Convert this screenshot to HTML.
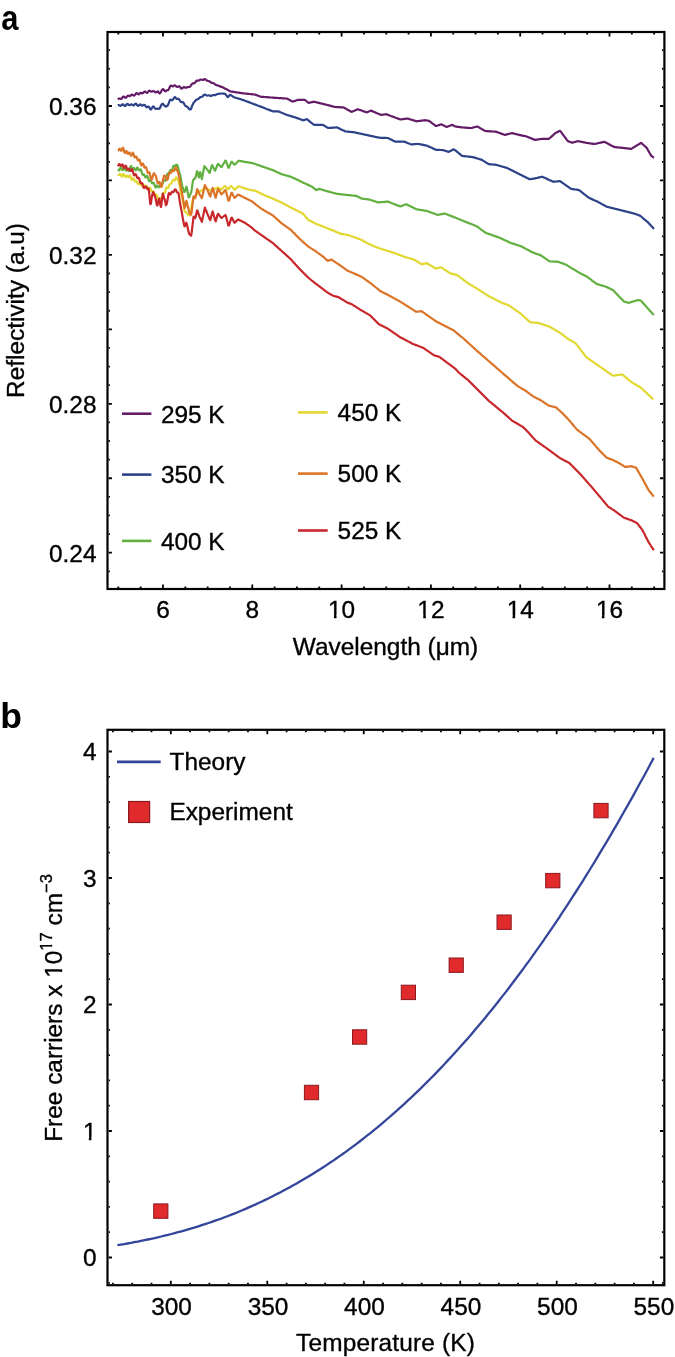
<!DOCTYPE html>
<html><head><meta charset="utf-8"><style>
html,body{margin:0;padding:0;background:#fff;width:675px;height:1357px;overflow:hidden}
text{font-family:"Liberation Sans", sans-serif;stroke:#000;stroke-width:0.35px}
svg{will-change:transform}
</style></head><body>
<svg width="675" height="1357" viewBox="0 0 675 1357" style="display:block">
<rect width="675" height="1357" fill="#fff"/>
<path d="M118.35,587.90V586.60M118.35,33.10V34.40M140.68,587.90V586.60M140.68,33.10V34.40M163.00,587.90V584.60M163.00,33.10V36.40M185.32,587.90V586.60M185.32,33.10V34.40M207.65,587.90V586.60M207.65,33.10V34.40M229.97,587.90V586.60M229.97,33.10V34.40M252.30,587.90V584.60M252.30,33.10V36.40M274.62,587.90V586.60M274.62,33.10V34.40M296.95,587.90V586.60M296.95,33.10V34.40M319.27,587.90V586.60M319.27,33.10V34.40M341.60,587.90V584.60M341.60,33.10V36.40M363.92,587.90V586.60M363.92,33.10V34.40M386.25,587.90V586.60M386.25,33.10V34.40M408.57,587.90V586.60M408.57,33.10V34.40M430.90,587.90V584.60M430.90,33.10V36.40M453.22,587.90V586.60M453.22,33.10V34.40M475.55,587.90V586.60M475.55,33.10V34.40M497.88,587.90V586.60M497.88,33.10V34.40M520.20,587.90V584.60M520.20,33.10V36.40M542.52,587.90V586.60M542.52,33.10V34.40M564.85,587.90V586.60M564.85,33.10V34.40M587.17,587.90V586.60M587.17,33.10V34.40M609.50,587.90V584.60M609.50,33.10V36.40M631.83,587.90V586.60M631.83,33.10V34.40M654.15,587.90V586.60M654.15,33.10V34.40M108.60,571.31H109.90M663.30,571.31H662.00M108.60,552.70H111.90M663.30,552.70H660.00M108.60,534.09H109.90M663.30,534.09H662.00M108.60,515.47H109.90M663.30,515.47H662.00M108.60,496.86H109.90M663.30,496.86H662.00M108.60,478.25H111.90M663.30,478.25H660.00M108.60,459.64H109.90M663.30,459.64H662.00M108.60,441.02H109.90M663.30,441.02H662.00M108.60,422.41H109.90M663.30,422.41H662.00M108.60,403.80H111.90M663.30,403.80H660.00M108.60,385.19H109.90M663.30,385.19H662.00M108.60,366.57H109.90M663.30,366.57H662.00M108.60,347.96H109.90M663.30,347.96H662.00M108.60,329.35H111.90M663.30,329.35H660.00M108.60,310.74H109.90M663.30,310.74H662.00M108.60,292.12H109.90M663.30,292.12H662.00M108.60,273.51H109.90M663.30,273.51H662.00M108.60,254.90H111.90M663.30,254.90H660.00M108.60,236.29H109.90M663.30,236.29H662.00M108.60,217.67H109.90M663.30,217.67H662.00M108.60,199.06H109.90M663.30,199.06H662.00M108.60,180.45H111.90M663.30,180.45H660.00M108.60,161.84H109.90M663.30,161.84H662.00M108.60,143.23H109.90M663.30,143.23H662.00M108.60,124.61H109.90M663.30,124.61H662.00M108.60,106.00H111.90M663.30,106.00H660.00M108.60,87.39H109.90M663.30,87.39H662.00M108.60,68.77H109.90M663.30,68.77H662.00M108.60,50.16H109.90M663.30,50.16H662.00" stroke="#000" stroke-width="1.8" fill="none"/>
<path d="M117.9,99.4 L118.5,98.8 L119.1,98.5 L119.7,98.5 L120.3,98.8 L120.9,99.0 L121.5,98.7 L122.1,98.0 L122.7,97.2 L123.3,96.7 L123.9,96.7 L124.5,97.2 L125.1,97.7 L125.7,97.8 L126.3,97.4 L126.9,96.6 L127.5,95.9 L128.1,95.7 L128.7,95.8 L129.3,96.1 L129.9,96.1 L130.5,95.7 L131.1,95.2 L131.7,94.7 L132.3,94.7 L132.9,95.1 L133.5,95.5 L134.1,95.6 L134.7,95.1 L135.3,94.3 L135.9,93.4 L136.5,93.1 L137.1,93.3 L137.7,93.9 L138.3,94.3 L138.9,94.2 L139.5,93.7 L140.1,93.1 L140.7,92.8 L141.3,92.9 L141.9,93.2 L142.5,93.3 L143.1,93.0 L143.7,92.4 L144.3,91.8 L144.9,91.5 L145.5,91.8 L146.1,92.4 L146.7,92.8 L147.3,92.8 L147.9,92.2 L148.5,91.4 L149.1,90.8 L149.7,90.7 L150.3,91.0 L150.9,91.4 L151.5,91.7 L152.1,91.5 L152.7,91.2 L153.3,91.0 L153.9,91.2 L154.5,91.7 L155.1,92.2 L155.7,92.5 L156.3,92.3 L156.9,91.8 L157.5,91.4 L158.1,91.6 L158.7,92.4 L159.3,93.3 L159.9,93.3 L160.5,92.6 L161.1,91.6 L161.7,90.4 L162.3,89.6 L162.9,89.2 L163.5,89.3 L164.1,90.3 L164.7,91.0 L165.3,91.3 L165.9,91.2 L166.5,90.5 L167.1,90.2 L167.7,90.2 L168.3,89.9 L168.9,89.1 L169.5,87.8 L170.1,86.3 L170.7,85.7 L171.3,85.6 L171.9,86.0 L172.5,86.3 L173.1,86.3 L173.7,85.9 L174.3,85.4 L174.9,85.3 L175.5,85.7 L176.1,86.3 L176.7,86.8 L177.3,87.0 L177.9,86.8 L178.5,86.4 L179.1,86.3 L179.7,86.6 L180.3,87.4 L180.9,88.3 L181.5,88.6 L182.1,88.4 L182.7,87.8 L183.3,87.3 L183.9,87.1 L184.5,87.3 L185.1,87.6 L185.7,87.8 L186.3,87.7 L186.9,87.3 L187.5,87.1 L188.1,87.1 L188.7,87.0 L189.3,87.0 L189.9,86.8 L190.5,86.1 L191.1,85.2 L191.7,84.3 L192.3,83.6 L192.9,83.4 L193.5,83.4 L194.1,83.3 L194.7,83.0 L195.3,82.3 L195.9,81.5 L196.5,80.9 L197.1,80.5 L197.7,80.6 L198.3,80.7 L198.9,80.5 L199.5,80.1 L200.1,79.7 L200.7,79.5 L201.3,79.6 L201.9,79.8 L202.5,80.0 L203.1,79.9 L203.7,79.6 L204.3,79.2 L204.9,79.2 L205.5,79.4 L206.1,79.9 L206.7,80.4 L207.3,80.8 L207.9,81.0 L208.5,81.1 L209.1,81.2 L209.7,81.5 L210.3,82.0 L210.9,82.4 L211.5,82.8 L212.1,82.9 L212.7,83.0 L213.3,83.2 L213.9,83.4 L214.5,83.9 L215.1,84.4 L215.7,84.8 L216.3,85.1 L216.9,85.3 L217.5,85.4 L218.1,85.5 L218.7,85.8 L219.3,86.1 L219.9,86.4 L220.5,86.6 L221.1,86.8 L221.7,86.9 L222.3,87.1 L222.9,87.4 L223.5,87.7 L224.1,88.1 L224.7,88.4 L225.3,88.7 L225.9,88.9 L226.5,89.2 L227.1,89.6 L227.7,89.9 L228.3,90.3 L228.9,90.6 L229.5,91.0 L230.1,91.3 L230.7,91.5 L231.3,91.6 L231.9,91.6 L232.5,91.7 L233.1,91.8 L233.7,91.9 L234.3,92.0 L234.9,92.1 L235.5,92.2 L236.1,92.3 L236.7,92.4 L237.3,92.5 L237.9,92.6 L238.5,92.6 L239.1,92.7 L239.7,92.8 L240.3,92.9 L240.9,93.0 L241.5,93.1 L242.1,93.2 L242.7,93.3 L243.3,93.4 L243.9,93.4 L244.5,93.5 L245.1,93.5 L245.7,93.6 L246.3,93.7 L246.9,93.7 L247.5,93.8 L248.1,93.9 L248.7,93.9 L249.3,94.0 L249.9,94.0 L250.5,94.1 L251.1,94.2 L251.7,94.2 L252.3,94.3 L252.9,94.4 L253.5,94.4 L254.1,94.5 L254.7,94.5 L255.3,94.6 L255.9,94.9 L256.5,95.1 L257.1,95.3 L257.7,95.6 L258.3,95.8 L258.9,96.0 L259.5,96.3 L260.1,96.5 L260.7,96.7 L261.3,96.8 L261.9,96.8 L262.5,96.8 L263.1,96.9 L263.7,96.9 L264.3,97.0 L264.9,97.0 L265.5,97.1 L266.1,97.1 L266.7,97.2 L267.3,97.2 L267.9,97.3 L268.5,97.3 L269.1,97.4 L269.7,97.4 L270.3,97.5 L270.9,97.5 L271.5,97.5 L272.1,97.6 L272.7,97.6 L273.3,97.7 L273.9,97.7 L274.5,97.8 L275.1,97.8 L275.7,97.9 L276.3,97.9 L276.9,97.9 L277.5,98.0 L278.1,98.0 L278.7,98.1 L279.3,98.1 L279.9,98.1 L280.5,98.2 L281.1,98.2 L281.7,98.2 L282.3,98.3 L282.9,98.3 L283.5,98.4 L284.1,98.4 L284.7,98.4 L285.3,98.5 L285.9,98.5 L286.5,98.6 L287.1,98.6 L287.7,98.9 L288.3,99.2 L288.9,99.6 L289.5,99.9 L290.1,100.3 L290.7,100.6 L291.3,101.0 L291.9,101.3 L292.5,101.6 L293.1,101.5 L293.7,101.3 L294.3,101.1 L294.9,100.9 L295.5,100.7 L296.1,100.5 L296.7,100.3 L297.3,100.1 L297.9,99.9 L298.5,99.9 L299.1,99.9 L299.7,99.9 L300.3,99.9 L300.9,99.9 L301.5,99.9 L302.1,99.9 L302.7,99.9 L303.3,99.9 L303.9,99.9 L304.5,99.9 L305.1,100.0 L305.7,100.5 L306.3,101.0 L306.9,101.5 L307.5,102.0 L308.1,102.5 L308.7,102.9 L309.3,102.7 L309.9,102.6 L310.5,102.5 L311.1,102.3 L311.7,102.2 L312.3,102.1 L312.9,101.9 L313.5,101.8 L314.1,101.7 L314.7,101.9 L315.3,102.0 L315.9,102.2 L316.5,102.3 L317.1,102.5 L317.7,102.6 L318.3,102.8 L318.9,102.9 L319.5,103.1 L320.1,103.2 L320.7,103.4 L321.3,103.5 L321.9,103.6 L322.5,103.8 L323.1,103.9 L323.7,104.1 L324.3,104.2 L324.9,104.4 L325.5,104.5 L326.1,104.7 L326.7,104.8 L327.3,105.0 L327.9,105.1 L328.5,105.3 L329.1,105.4 L329.7,105.6 L330.3,105.8 L330.9,105.9 L331.5,106.1 L332.1,106.2 L332.7,106.4 L333.3,106.5 L333.9,106.7 L334.5,106.8 L335.1,107.0 L335.7,107.0 L336.3,107.1 L336.9,107.1 L337.5,107.1 L338.1,107.1 L338.7,107.2 L339.3,107.2 L339.9,107.2 L340.5,107.3 L341.1,107.3 L341.7,107.3 L342.3,107.3 L342.9,107.4 L343.5,107.4 L344.1,107.7 L344.7,108.0 L345.3,108.4 L345.9,108.7 L346.5,109.0 L347.1,109.4 L347.7,109.7 L348.3,110.0 L348.9,110.4 L349.5,110.7 L350.1,111.1 L350.7,111.4 L351.3,111.7 L351.9,111.8 L352.5,111.5 L353.1,111.2 L353.7,111.0 L354.3,110.7 L354.9,110.5 L355.5,110.2 L356.1,109.9 L356.7,109.7 L357.3,109.4 L357.9,109.2 L358.5,109.5 L359.1,109.7 L359.7,109.9 L360.3,110.1 L360.9,110.3 L361.5,110.5 L362.1,110.7 L362.7,111.0 L363.3,111.2 L363.9,111.4 L364.5,111.6 L365.1,111.8 L365.7,112.0 L366.3,112.3 L366.9,112.3 L367.5,112.1 L368.1,111.8 L368.7,111.6 L369.3,111.3 L369.9,111.1 L370.5,110.8 L371.1,110.6 L371.7,110.9 L372.3,111.1 L372.9,111.4 L373.5,111.7 L374.1,111.9 L374.7,112.2 L375.3,112.4 L375.9,112.7 L376.5,113.0 L377.1,113.2 L377.7,113.5 L378.3,113.8 L378.9,114.0 L379.5,114.3 L380.1,114.5 L380.7,114.8 L381.3,114.8 L381.9,114.8 L382.5,114.7 L383.1,114.6 L383.7,114.5 L384.3,114.5 L384.9,114.4 L385.5,114.3 L386.1,114.2 L386.7,114.4 L387.3,114.6 L387.9,114.8 L388.5,115.1 L389.1,115.3 L389.7,115.5 L390.3,115.7 L390.9,116.0 L391.5,116.2 L392.1,116.4 L392.7,116.6 L393.3,116.8 L393.9,117.1 L394.5,117.3 L395.1,117.5 L395.7,117.7 L396.3,118.0 L396.9,118.2 L397.5,118.4 L398.1,118.6 L398.7,118.9 L399.3,119.1 L399.9,119.3 L400.5,119.5 L401.1,119.4 L401.7,119.3 L402.3,119.2 L402.9,119.2 L403.5,119.1 L404.1,119.0 L404.7,118.9 L405.3,118.8 L405.9,118.7 L406.5,118.7 L407.1,118.6 L407.7,118.5 L408.3,118.7 L408.9,118.9 L409.5,119.1 L410.1,119.3 L410.7,119.5 L411.3,119.7 L411.9,119.9 L412.5,120.1 L413.1,120.2 L413.7,120.4 L414.3,120.6 L414.9,120.8 L415.5,121.0 L416.1,121.2 L416.7,121.3 L417.3,121.2 L417.9,121.1 L418.5,121.0 L419.1,121.0 L419.7,120.9 L420.3,120.8 L420.9,120.7 L421.5,120.7 L422.1,120.6 L422.7,120.5 L423.3,120.4 L423.9,120.4 L424.5,120.3 L425.1,120.2 L425.7,120.3 L426.3,120.4 L426.9,120.5 L427.5,120.6 L428.1,120.7 L428.7,120.8 L429.3,121.1 L429.9,121.5 L430.5,122.0 L431.1,122.4 L431.7,122.9 L432.3,123.3 L432.9,123.8 L433.5,124.2 L434.1,124.7 L434.7,125.1 L435.3,125.6 L435.9,126.0 L436.5,125.9 L437.1,125.7 L437.7,125.5 L438.3,125.3 L438.9,125.1 L439.5,124.9 L440.1,124.7 L440.7,124.5 L441.3,124.3 L441.9,124.6 L442.5,124.9 L443.1,125.2 L443.7,125.5 L444.3,125.8 L444.9,126.1 L445.5,126.4 L446.1,126.7 L446.7,127.0 L447.3,126.8 L447.9,126.5 L448.5,126.3 L449.1,126.0 L449.7,125.8 L450.3,125.6 L450.9,125.3 L451.5,125.1 L452.1,124.9 L452.7,125.2 L453.3,125.5 L453.9,125.8 L454.5,126.1 L455.1,126.4 L455.7,126.5 L456.3,126.6 L456.9,126.7 L457.5,126.8 L458.1,126.8 L458.7,126.9 L459.3,127.0 L459.9,127.1 L460.5,127.2 L461.1,127.3 L461.7,127.3 L462.3,127.4 L462.9,127.5 L463.5,127.5 L464.1,127.6 L464.7,127.6 L465.3,127.7 L465.9,127.7 L466.5,127.7 L467.1,127.8 L467.7,127.8 L468.3,127.9 L468.9,127.9 L469.5,128.0 L470.1,128.0 L470.7,128.1 L471.3,128.0 L471.9,127.9 L472.5,127.7 L473.1,127.5 L473.7,127.4 L474.3,127.2 L474.9,127.0 L475.5,126.9 L476.1,126.7 L476.7,126.5 L477.3,126.5 L477.9,126.8 L478.5,127.1 L479.1,127.5 L479.7,127.8 L480.3,128.2 L480.9,128.5 L481.5,128.9 L482.1,129.2 L482.7,129.6 L483.3,129.9 L483.9,130.3 L484.5,130.6 L485.1,130.9 L485.7,131.0 L486.3,131.1 L486.9,131.1 L487.5,131.2 L488.1,131.2 L488.7,131.2 L489.3,131.3 L489.9,131.3 L490.5,131.3 L491.1,131.4 L491.7,131.4 L492.3,131.5 L492.9,131.5 L493.5,131.5 L494.1,131.6 L494.7,131.6 L495.3,131.7 L495.9,131.7 L496.5,131.9 L497.1,132.1 L497.7,132.3 L498.3,132.6 L498.9,132.8 L499.5,133.0 L500.1,133.2 L500.7,133.4 L501.3,133.6 L501.9,133.9 L502.5,134.1 L503.1,134.3 L503.7,134.5 L504.3,134.7 L504.9,134.9 L505.5,134.7 L506.1,134.6 L506.7,134.4 L507.3,134.3 L507.9,134.1 L508.5,134.0 L509.1,133.8 L509.7,133.7 L510.3,133.5 L510.9,133.4 L511.5,133.2 L512.1,133.1 L512.7,133.3 L513.3,133.4 L513.9,133.6 L514.5,133.7 L515.1,133.9 L515.7,134.0 L516.3,134.2 L516.9,134.3 L517.5,134.5 L518.1,134.6 L518.7,134.8 L519.3,134.9 L519.9,135.1 L520.5,135.2 L521.1,135.3 L521.7,135.4 L522.3,135.6 L522.9,135.7 L523.5,135.8 L524.1,135.9 L524.7,136.0 L525.3,136.1 L525.9,136.3 L526.5,136.5 L527.1,136.7 L527.7,136.9 L528.3,137.2 L528.9,137.4 L529.5,137.7 L530.1,137.9 L530.7,138.2 L531.3,138.4 L531.9,138.6 L532.5,138.9 L533.1,139.1 L533.7,139.4 L534.3,139.6 L534.9,139.9 L535.5,139.8 L536.1,139.7 L536.7,139.6 L537.3,139.5 L537.9,139.5 L538.5,139.4 L539.1,139.3 L539.7,139.2 L540.3,139.1 L540.9,139.0 L541.5,138.9 L542.1,138.8 L542.7,138.8 L543.3,138.8 L543.9,138.8 L544.5,138.8 L545.1,138.8 L545.7,138.9 L546.3,138.9 L546.9,138.9 L547.5,138.9 L548.1,138.9 L548.7,138.9 L549.3,138.5 L549.9,138.0 L550.5,137.5 L551.1,136.9 L551.7,136.4 L552.3,135.9 L552.9,135.3 L553.5,134.8 L554.1,134.2 L554.7,133.7 L555.3,133.2 L555.9,132.8 L556.5,132.5 L557.1,132.2 L557.7,131.9 L558.3,131.6 L558.9,131.3 L559.5,131.0 L560.1,130.8 L560.7,131.6 L561.3,132.4 L561.9,133.2 L562.5,134.0 L563.1,134.8 L563.7,135.6 L564.3,136.4 L564.9,137.2 L565.5,138.0 L566.1,138.8 L566.7,139.6 L567.3,140.4 L567.9,141.1 L568.5,141.4 L569.1,141.6 L569.7,141.8 L570.3,142.0 L570.9,142.2 L571.5,142.4 L572.1,142.7 L572.7,142.6 L573.3,142.4 L573.9,142.2 L574.5,142.0 L575.1,141.9 L575.7,141.7 L576.3,141.5 L576.9,141.4 L577.5,141.2 L578.1,141.2 L578.7,141.3 L579.3,141.4 L579.9,141.5 L580.5,141.6 L581.1,141.8 L581.7,141.9 L582.3,142.0 L582.9,142.1 L583.5,142.3 L584.1,142.4 L584.7,142.5 L585.3,142.6 L585.9,142.7 L586.5,142.9 L587.1,143.0 L587.7,143.0 L588.3,143.1 L588.9,143.2 L589.5,143.3 L590.1,143.4 L590.7,143.5 L591.3,143.6 L591.9,143.6 L592.5,143.7 L593.1,143.8 L593.7,143.9 L594.3,144.0 L594.9,143.9 L595.5,143.8 L596.1,143.6 L596.7,143.5 L597.3,143.4 L597.9,143.2 L598.5,143.1 L599.1,143.0 L599.7,142.8 L600.3,142.7 L600.9,142.6 L601.5,142.4 L602.1,142.3 L602.7,142.2 L603.3,142.0 L603.9,141.9 L604.5,141.9 L605.1,142.2 L605.7,142.5 L606.3,142.8 L606.9,143.1 L607.5,143.4 L608.1,143.8 L608.7,144.1 L609.3,144.4 L609.9,144.7 L610.5,145.0 L611.1,145.4 L611.7,145.7 L612.3,146.0 L612.9,146.3 L613.5,146.6 L614.1,146.9 L614.7,147.1 L615.3,147.2 L615.9,147.2 L616.5,147.3 L617.1,147.3 L617.7,147.4 L618.3,147.4 L618.9,147.5 L619.5,147.6 L620.1,147.6 L620.7,147.7 L621.3,147.7 L621.9,147.8 L622.5,147.8 L623.1,147.9 L623.7,148.0 L624.3,148.1 L624.9,148.1 L625.5,148.2 L626.1,148.3 L626.7,148.4 L627.3,148.4 L627.9,148.5 L628.5,148.6 L629.1,148.7 L629.7,148.7 L630.3,148.8 L630.9,148.9 L631.5,148.7 L632.1,148.3 L632.7,147.9 L633.3,147.6 L633.9,147.2 L634.5,146.9 L635.1,146.5 L635.7,146.1 L636.3,145.8 L636.9,145.4 L637.5,145.1 L638.1,144.7 L638.7,144.3 L639.3,144.0 L639.9,143.6 L640.5,143.3 L641.1,142.9 L641.7,143.4 L642.3,143.9 L642.9,144.5 L643.5,145.0 L644.1,145.5 L644.7,146.0 L645.3,146.6 L645.9,147.1 L646.5,147.6 L647.1,148.5 L647.7,149.6 L648.3,150.6 L648.9,151.7 L649.5,152.8 L650.1,153.8 L650.7,154.9 L651.3,155.8 L651.9,156.2 L652.5,156.7 L653.1,157.1 L653.7,157.6 L654.0,157.8" stroke="#641c68" stroke-width="2.2" fill="none" stroke-linejoin="round" stroke-linecap="butt"/>
<path d="M117.9,105.5 L118.5,105.1 L119.1,105.1 L119.7,105.5 L120.3,105.8 L120.9,105.7 L121.5,105.2 L122.1,104.6 L122.7,104.3 L123.3,104.5 L123.9,105.2 L124.5,105.9 L125.1,106.0 L125.7,105.6 L126.3,104.7 L126.9,104.0 L127.5,103.8 L128.1,104.2 L128.7,104.8 L129.3,105.2 L129.9,105.1 L130.5,104.7 L131.1,104.3 L131.7,104.3 L132.3,104.8 L132.9,105.3 L133.5,105.5 L134.1,105.1 L134.7,104.4 L135.3,103.8 L135.9,103.7 L136.5,104.2 L137.1,105.0 L137.7,105.7 L138.3,105.8 L138.9,105.4 L139.5,104.8 L140.1,104.4 L140.7,104.6 L141.3,105.1 L141.9,105.6 L142.5,105.6 L143.1,105.3 L143.7,104.9 L144.3,104.8 L144.9,105.2 L145.5,106.0 L146.1,106.9 L146.7,107.3 L147.3,107.1 L147.9,106.7 L148.5,106.6 L149.1,107.0 L149.7,108.0 L150.3,109.1 L150.9,109.5 L151.5,108.8 L152.1,107.8 L152.7,106.8 L153.3,106.3 L153.9,106.9 L154.5,107.9 L155.1,108.6 L155.7,108.8 L156.3,108.8 L156.9,108.9 L157.5,108.6 L158.1,108.6 L158.7,108.8 L159.3,108.7 L159.9,108.0 L160.5,106.7 L161.1,105.3 L161.7,104.3 L162.3,103.9 L162.9,103.7 L163.5,104.7 L164.1,105.4 L164.7,105.7 L165.3,106.0 L165.9,106.6 L166.5,106.3 L167.1,106.0 L167.7,105.4 L168.3,104.4 L168.9,102.8 L169.5,101.1 L170.1,99.8 L170.7,99.7 L171.3,100.0 L171.9,100.3 L172.5,100.1 L173.1,99.4 L173.7,98.4 L174.3,97.5 L174.9,97.0 L175.5,97.6 L176.1,98.4 L176.7,98.8 L177.3,98.9 L177.9,98.7 L178.5,98.8 L179.1,99.4 L179.7,100.3 L180.3,101.3 L180.9,101.9 L181.5,102.1 L182.1,102.1 L182.7,102.0 L183.3,102.5 L183.9,103.4 L184.5,104.5 L185.1,105.5 L185.7,106.1 L186.3,106.4 L186.9,106.6 L187.5,107.0 L188.1,107.7 L188.7,108.6 L189.3,109.2 L189.9,109.5 L190.5,109.5 L191.1,108.8 L191.7,106.9 L192.3,105.4 L192.9,104.2 L193.5,102.9 L194.1,102.3 L194.7,101.6 L195.3,100.7 L195.9,100.0 L196.5,99.6 L197.1,99.5 L197.7,99.4 L198.3,99.0 L198.9,98.4 L199.5,97.8 L200.1,97.3 L200.7,97.0 L201.3,97.0 L201.9,96.9 L202.5,96.5 L203.1,95.8 L203.7,95.0 L204.3,94.5 L204.9,94.5 L205.5,94.9 L206.1,95.3 L206.7,95.5 L207.3,95.6 L207.9,95.5 L208.5,95.3 L209.1,95.4 L209.7,95.5 L210.3,95.8 L210.9,95.9 L211.5,95.8 L212.1,95.5 L212.7,95.2 L213.3,95.0 L213.9,95.0 L214.5,95.1 L215.1,95.1 L215.7,94.9 L216.3,94.6 L216.9,94.2 L217.5,94.0 L218.1,93.9 L218.7,93.9 L219.3,93.8 L219.9,93.7 L220.5,93.5 L221.1,93.5 L221.7,93.5 L222.3,93.6 L222.9,93.7 L223.5,93.7 L224.1,93.7 L224.7,93.7 L225.3,94.0 L225.9,94.8 L226.5,95.6 L227.1,96.4 L227.7,97.2 L228.3,96.6 L228.9,96.0 L229.5,95.4 L230.1,94.8 L230.7,94.9 L231.3,95.3 L231.9,95.8 L232.5,96.2 L233.1,96.6 L233.7,97.1 L234.3,97.3 L234.9,97.5 L235.5,97.7 L236.1,97.9 L236.7,98.0 L237.3,98.2 L237.9,98.4 L238.5,98.6 L239.1,98.8 L239.7,99.0 L240.3,99.1 L240.9,99.3 L241.5,99.5 L242.1,99.7 L242.7,99.9 L243.3,100.1 L243.9,100.3 L244.5,100.5 L245.1,100.8 L245.7,101.0 L246.3,101.2 L246.9,101.4 L247.5,101.7 L248.1,101.9 L248.7,102.1 L249.3,102.3 L249.9,102.6 L250.5,102.8 L251.1,103.0 L251.7,103.2 L252.3,103.5 L252.9,103.7 L253.5,103.9 L254.1,104.2 L254.7,104.4 L255.3,104.6 L255.9,104.8 L256.5,105.1 L257.1,105.3 L257.7,105.5 L258.3,105.7 L258.9,106.0 L259.5,106.2 L260.1,106.4 L260.7,106.6 L261.3,106.9 L261.9,107.1 L262.5,107.3 L263.1,107.6 L263.7,107.8 L264.3,108.0 L264.9,108.3 L265.5,108.5 L266.1,108.7 L266.7,109.0 L267.3,109.2 L267.9,109.4 L268.5,109.7 L269.1,109.9 L269.7,110.1 L270.3,110.4 L270.9,110.6 L271.5,110.8 L272.1,111.1 L272.7,111.3 L273.3,111.4 L273.9,111.4 L274.5,111.4 L275.1,111.4 L275.7,111.4 L276.3,111.4 L276.9,111.4 L277.5,111.4 L278.1,111.4 L278.7,111.6 L279.3,111.8 L279.9,112.0 L280.5,112.3 L281.1,112.5 L281.7,112.8 L282.3,113.0 L282.9,113.3 L283.5,113.5 L284.1,113.7 L284.7,114.0 L285.3,114.2 L285.9,114.5 L286.5,114.7 L287.1,115.0 L287.7,115.2 L288.3,115.3 L288.9,115.5 L289.5,115.7 L290.1,115.9 L290.7,116.1 L291.3,116.2 L291.9,116.4 L292.5,116.6 L293.1,116.8 L293.7,117.0 L294.3,117.2 L294.9,117.3 L295.5,117.5 L296.1,117.7 L296.7,117.9 L297.3,118.1 L297.9,118.4 L298.5,118.6 L299.1,118.8 L299.7,119.0 L300.3,119.2 L300.9,119.5 L301.5,119.7 L302.1,119.9 L302.7,120.1 L303.3,120.3 L303.9,120.1 L304.5,119.9 L305.1,119.7 L305.7,119.5 L306.3,119.3 L306.9,119.2 L307.5,119.7 L308.1,120.1 L308.7,120.6 L309.3,121.1 L309.9,121.6 L310.5,122.1 L311.1,122.6 L311.7,123.0 L312.3,123.5 L312.9,124.0 L313.5,124.5 L314.1,124.8 L314.7,124.8 L315.3,124.8 L315.9,124.8 L316.5,124.8 L317.1,124.8 L317.7,124.8 L318.3,124.8 L318.9,124.8 L319.5,124.8 L320.1,124.8 L320.7,124.8 L321.3,124.8 L321.9,124.8 L322.5,124.8 L323.1,125.0 L323.7,125.3 L324.3,125.7 L324.9,126.1 L325.5,126.4 L326.1,126.8 L326.7,127.2 L327.3,127.5 L327.9,127.9 L328.5,128.0 L329.1,127.9 L329.7,127.9 L330.3,127.9 L330.9,127.8 L331.5,127.8 L332.1,127.7 L332.7,127.7 L333.3,127.6 L333.9,127.6 L334.5,127.6 L335.1,127.5 L335.7,127.5 L336.3,127.4 L336.9,127.4 L337.5,127.6 L338.1,127.9 L338.7,128.2 L339.3,128.5 L339.9,128.8 L340.5,129.1 L341.1,129.4 L341.7,129.7 L342.3,130.0 L342.9,130.2 L343.5,130.5 L344.1,130.8 L344.7,131.1 L345.3,131.4 L345.9,131.5 L346.5,131.5 L347.1,131.6 L347.7,131.6 L348.3,131.7 L348.9,131.8 L349.5,131.8 L350.1,131.9 L350.7,131.9 L351.3,132.0 L351.9,132.1 L352.5,132.1 L353.1,132.2 L353.7,132.2 L354.3,132.3 L354.9,132.5 L355.5,132.6 L356.1,132.7 L356.7,132.8 L357.3,133.0 L357.9,133.1 L358.5,133.2 L359.1,133.4 L359.7,133.5 L360.3,133.6 L360.9,133.7 L361.5,133.9 L362.1,134.0 L362.7,134.1 L363.3,134.3 L363.9,134.4 L364.5,134.5 L365.1,134.7 L365.7,134.8 L366.3,134.9 L366.9,135.0 L367.5,135.2 L368.1,135.3 L368.7,135.4 L369.3,135.6 L369.9,135.7 L370.5,135.8 L371.1,136.0 L371.7,136.1 L372.3,136.2 L372.9,136.3 L373.5,136.5 L374.1,136.6 L374.7,136.7 L375.3,136.9 L375.9,137.0 L376.5,137.1 L377.1,137.3 L377.7,137.4 L378.3,137.5 L378.9,137.7 L379.5,137.7 L380.1,137.7 L380.7,137.8 L381.3,137.8 L381.9,137.8 L382.5,137.8 L383.1,137.8 L383.7,137.9 L384.3,137.9 L384.9,137.9 L385.5,137.9 L386.1,137.9 L386.7,138.0 L387.3,138.0 L387.9,138.0 L388.5,138.3 L389.1,138.6 L389.7,138.9 L390.3,139.2 L390.9,139.5 L391.5,139.8 L392.1,140.1 L392.7,140.4 L393.3,140.7 L393.9,141.0 L394.5,141.3 L395.1,141.6 L395.7,141.6 L396.3,141.6 L396.9,141.6 L397.5,141.6 L398.1,141.6 L398.7,141.6 L399.3,141.6 L399.9,141.6 L400.5,141.6 L401.1,141.6 L401.7,141.6 L402.3,141.6 L402.9,141.6 L403.5,141.6 L404.1,141.6 L404.7,141.9 L405.3,142.1 L405.9,142.3 L406.5,142.6 L407.1,142.8 L407.7,143.1 L408.3,143.3 L408.9,143.5 L409.5,143.8 L410.1,144.0 L410.7,144.2 L411.3,144.4 L411.9,144.3 L412.5,144.3 L413.1,144.3 L413.7,144.2 L414.3,144.2 L414.9,144.1 L415.5,144.1 L416.1,144.0 L416.7,144.0 L417.3,144.0 L417.9,143.9 L418.5,144.0 L419.1,144.1 L419.7,144.2 L420.3,144.3 L420.9,144.4 L421.5,144.6 L422.1,144.7 L422.7,144.8 L423.3,144.9 L423.9,145.1 L424.5,145.2 L425.1,145.3 L425.7,145.4 L426.3,145.5 L426.9,145.7 L427.5,145.9 L428.1,146.2 L428.7,146.4 L429.3,146.7 L429.9,147.0 L430.5,147.3 L431.1,147.5 L431.7,147.8 L432.3,148.1 L432.9,148.4 L433.5,148.6 L434.1,148.9 L434.7,149.2 L435.3,149.5 L435.9,149.8 L436.5,149.8 L437.1,149.8 L437.7,149.9 L438.3,149.9 L438.9,149.9 L439.5,149.9 L440.1,150.0 L440.7,150.0 L441.3,150.0 L441.9,150.0 L442.5,150.1 L443.1,150.1 L443.7,150.3 L444.3,150.5 L444.9,150.7 L445.5,150.9 L446.1,151.1 L446.7,151.3 L447.3,151.5 L447.9,151.7 L448.5,151.9 L449.1,151.6 L449.7,151.3 L450.3,151.0 L450.9,150.7 L451.5,150.4 L452.1,150.1 L452.7,149.8 L453.3,149.5 L453.9,149.3 L454.5,149.8 L455.1,150.2 L455.7,150.7 L456.3,151.2 L456.9,151.7 L457.5,152.2 L458.1,152.7 L458.7,153.2 L459.3,153.6 L459.9,154.1 L460.5,154.6 L461.1,155.1 L461.7,155.6 L462.3,155.9 L462.9,156.0 L463.5,156.1 L464.1,156.1 L464.7,156.2 L465.3,156.3 L465.9,156.3 L466.5,156.4 L467.1,156.5 L467.7,156.5 L468.3,156.6 L468.9,156.7 L469.5,156.7 L470.1,156.8 L470.7,156.9 L471.3,156.9 L471.9,157.0 L472.5,157.1 L473.1,157.2 L473.7,157.4 L474.3,157.6 L474.9,157.7 L475.5,157.9 L476.1,158.1 L476.7,158.3 L477.3,158.5 L477.9,158.6 L478.5,158.8 L479.1,159.0 L479.7,159.2 L480.3,159.4 L480.9,159.6 L481.5,159.7 L482.1,160.0 L482.7,160.4 L483.3,160.8 L483.9,161.2 L484.5,161.5 L485.1,161.9 L485.7,162.3 L486.3,162.7 L486.9,163.0 L487.5,163.4 L488.1,163.8 L488.7,164.1 L489.3,164.2 L489.9,164.3 L490.5,164.3 L491.1,164.4 L491.7,164.4 L492.3,164.5 L492.9,164.5 L493.5,164.6 L494.1,164.6 L494.7,164.7 L495.3,164.7 L495.9,164.8 L496.5,165.0 L497.1,165.1 L497.7,165.3 L498.3,165.5 L498.9,165.6 L499.5,165.8 L500.1,166.0 L500.7,166.1 L501.3,166.3 L501.9,166.5 L502.5,166.7 L503.1,166.8 L503.7,167.0 L504.3,167.2 L504.9,167.3 L505.5,167.5 L506.1,167.7 L506.7,167.8 L507.3,168.1 L507.9,168.4 L508.5,168.7 L509.1,169.0 L509.7,169.3 L510.3,169.6 L510.9,169.9 L511.5,170.2 L512.1,170.5 L512.7,170.8 L513.3,171.1 L513.9,171.4 L514.5,171.7 L515.1,172.0 L515.7,172.3 L516.3,172.6 L516.9,172.9 L517.5,173.2 L518.1,173.5 L518.7,173.8 L519.3,174.1 L519.9,174.4 L520.5,174.7 L521.1,175.0 L521.7,175.3 L522.3,175.6 L522.9,175.9 L523.5,176.2 L524.1,176.5 L524.7,176.8 L525.3,177.1 L525.9,177.4 L526.5,177.7 L527.1,178.0 L527.7,178.3 L528.3,178.6 L528.9,178.9 L529.5,179.2 L530.1,179.2 L530.7,179.1 L531.3,179.0 L531.9,178.9 L532.5,178.8 L533.1,178.7 L533.7,178.6 L534.3,178.5 L534.9,178.4 L535.5,178.3 L536.1,178.1 L536.7,178.0 L537.3,177.9 L537.9,177.7 L538.5,177.6 L539.1,177.4 L539.7,177.3 L540.3,177.1 L540.9,177.0 L541.5,176.9 L542.1,176.7 L542.7,176.9 L543.3,177.2 L543.9,177.5 L544.5,177.8 L545.1,178.0 L545.7,178.3 L546.3,178.6 L546.9,178.9 L547.5,179.1 L548.1,179.4 L548.7,179.7 L549.3,180.0 L549.9,180.2 L550.5,180.5 L551.1,180.8 L551.7,181.1 L552.3,181.3 L552.9,181.6 L553.5,181.8 L554.1,181.7 L554.7,181.7 L555.3,181.6 L555.9,181.5 L556.5,181.5 L557.1,181.4 L557.7,181.3 L558.3,181.3 L558.9,181.2 L559.5,181.2 L560.1,181.2 L560.7,181.6 L561.3,182.0 L561.9,182.4 L562.5,182.9 L563.1,183.3 L563.7,183.7 L564.3,184.1 L564.9,184.5 L565.5,185.0 L566.1,185.4 L566.7,185.8 L567.3,186.2 L567.9,186.7 L568.5,187.1 L569.1,187.5 L569.7,187.9 L570.3,188.3 L570.9,188.8 L571.5,189.0 L572.1,189.0 L572.7,189.1 L573.3,189.2 L573.9,189.3 L574.5,189.4 L575.1,189.5 L575.7,189.5 L576.3,189.6 L576.9,189.7 L577.5,189.8 L578.1,189.9 L578.7,190.0 L579.3,190.3 L579.9,190.8 L580.5,191.2 L581.1,191.7 L581.7,192.2 L582.3,192.7 L582.9,193.1 L583.5,193.6 L584.1,194.1 L584.7,194.5 L585.3,195.0 L585.9,195.5 L586.5,195.9 L587.1,196.4 L587.7,196.9 L588.3,197.3 L588.9,197.8 L589.5,198.1 L590.1,198.3 L590.7,198.6 L591.3,198.9 L591.9,199.1 L592.5,199.4 L593.1,199.7 L593.7,200.0 L594.3,200.2 L594.9,200.5 L595.5,200.8 L596.1,201.0 L596.7,201.3 L597.3,201.6 L597.9,201.9 L598.5,202.2 L599.1,202.5 L599.7,202.8 L600.3,203.2 L600.9,203.5 L601.5,203.8 L602.1,204.2 L602.7,204.5 L603.3,204.8 L603.9,205.2 L604.5,205.5 L605.1,205.8 L605.7,206.1 L606.3,206.5 L606.9,206.7 L607.5,206.9 L608.1,207.0 L608.7,207.2 L609.3,207.3 L609.9,207.5 L610.5,207.6 L611.1,207.8 L611.7,207.9 L612.3,208.1 L612.9,208.2 L613.5,208.4 L614.1,208.5 L614.7,208.7 L615.3,208.8 L615.9,209.0 L616.5,209.1 L617.1,209.3 L617.7,209.4 L618.3,209.6 L618.9,209.7 L619.5,209.9 L620.1,210.0 L620.7,210.2 L621.3,210.3 L621.9,210.5 L622.5,210.6 L623.1,210.8 L623.7,210.9 L624.3,211.1 L624.9,211.2 L625.5,211.4 L626.1,211.5 L626.7,211.7 L627.3,211.8 L627.9,212.0 L628.5,212.1 L629.1,212.3 L629.7,212.4 L630.3,212.6 L630.9,212.7 L631.5,212.9 L632.1,213.0 L632.7,213.2 L633.3,213.3 L633.9,213.5 L634.5,213.7 L635.1,213.9 L635.7,214.1 L636.3,214.3 L636.9,214.5 L637.5,214.7 L638.1,214.9 L638.7,215.2 L639.3,215.4 L639.9,215.6 L640.5,216.0 L641.1,216.5 L641.7,217.0 L642.3,217.5 L642.9,218.1 L643.5,218.6 L644.1,219.1 L644.7,219.6 L645.3,220.1 L645.9,220.6 L646.5,221.1 L647.1,221.6 L647.7,222.1 L648.3,222.7 L648.9,223.4 L649.5,224.0 L650.1,224.7 L650.7,225.3 L651.3,226.0 L651.9,226.6 L652.5,227.3 L653.1,227.9 L653.7,228.6 L654.0,228.9" stroke="#2d4288" stroke-width="2.2" fill="none" stroke-linejoin="round" stroke-linecap="butt"/>
<path d="M117.9,169.1 L118.5,170.0 L119.1,170.5 L119.7,169.6 L120.3,167.9 L120.9,167.1 L121.5,168.0 L122.1,169.6 L122.7,170.1 L123.3,169.5 L123.9,168.3 L124.5,168.2 L125.1,169.4 L125.7,170.6 L126.3,170.6 L126.9,169.9 L127.5,169.7 L128.1,170.2 L128.7,171.1 L129.3,170.8 L129.9,168.8 L130.5,166.7 L131.1,166.0 L131.7,167.0 L132.3,168.8 L132.9,169.2 L133.5,168.4 L134.1,168.0 L134.7,168.8 L135.3,170.1 L135.9,170.3 L136.5,168.9 L137.1,167.6 L137.7,167.8 L138.3,169.2 L138.9,170.3 L139.5,170.1 L140.1,169.5 L140.7,169.4 L141.3,170.8 L141.9,173.1 L142.5,174.7 L143.1,174.8 L143.7,174.3 L144.3,174.9 L144.9,176.4 L145.5,177.6 L146.1,177.2 L146.7,176.0 L147.3,175.8 L147.9,177.3 L148.5,179.7 L149.1,181.1 L149.7,180.9 L150.3,180.1 L150.9,180.4 L151.5,181.8 L152.1,183.2 L152.7,183.4 L153.3,182.8 L153.9,183.0 L154.5,184.6 L155.1,186.7 L155.7,187.5 L156.3,186.6 L156.9,185.5 L157.5,185.7 L158.1,186.6 L158.7,187.4 L159.3,187.0 L159.9,185.5 L160.5,184.4 L161.1,184.4 L161.7,184.8 L162.3,184.2 L162.9,182.3 L163.5,180.5 L164.1,180.1 L164.7,180.6 L165.3,180.8 L165.9,179.4 L166.5,176.7 L167.1,174.4 L167.7,173.6 L168.3,173.8 L168.9,173.4 L169.5,172.0 L170.1,170.4 L170.7,169.9 L171.3,170.2 L171.9,170.2 L172.5,168.9 L173.1,166.9 L173.7,165.5 L174.3,165.5 L174.9,166.0 L175.5,165.8 L176.1,164.9 L176.7,164.7 L177.3,165.2 L177.9,166.6 L178.5,169.4 L179.1,171.5 L179.7,173.3 L180.3,175.5 L180.9,178.7 L181.5,182.4 L182.1,185.5 L182.7,187.7 L183.3,189.5 L183.9,191.9 L184.5,192.0 L185.1,190.6 L185.7,188.8 L186.3,186.7 L186.9,188.0 L187.5,191.2 L188.1,194.4 L188.7,197.4 L189.3,197.0 L189.9,195.3 L190.5,193.9 L191.1,192.6 L191.7,189.5 L192.3,185.3 L192.9,181.0 L193.5,179.7 L194.1,179.2 L194.7,178.6 L195.3,178.0 L195.9,175.9 L196.5,173.6 L197.1,171.2 L197.7,172.8 L198.3,175.1 L198.9,177.5 L199.5,175.2 L200.1,172.0 L200.7,174.4 L201.3,176.7 L201.9,179.1 L202.5,175.9 L203.1,172.6 L203.7,169.4 L204.3,166.1 L204.9,166.8 L205.5,167.5 L206.1,168.2 L206.7,168.9 L207.3,169.6 L207.9,170.5 L208.5,171.5 L209.1,172.4 L209.7,172.9 L210.3,170.8 L210.9,168.7 L211.5,166.6 L212.1,165.1 L212.7,166.3 L213.3,167.5 L213.9,168.6 L214.5,169.8 L215.1,170.6 L215.7,169.1 L216.3,167.6 L216.9,166.1 L217.5,164.7 L218.1,163.9 L218.7,164.5 L219.3,165.1 L219.9,165.7 L220.5,166.3 L221.1,166.9 L221.7,166.9 L222.3,165.9 L222.9,164.8 L223.5,163.8 L224.1,162.7 L224.7,161.7 L225.3,160.6 L225.9,160.9 L226.5,162.6 L227.1,164.2 L227.7,165.9 L228.3,167.6 L228.9,167.7 L229.5,166.3 L230.1,164.9 L230.7,163.4 L231.3,162.0 L231.9,161.7 L232.5,162.4 L233.1,163.2 L233.7,163.9 L234.3,164.7 L234.9,164.5 L235.5,163.9 L236.1,163.3 L236.7,162.7 L237.3,162.1 L237.9,161.5 L238.5,160.9 L239.1,160.8 L239.7,160.9 L240.3,161.0 L240.9,161.1 L241.5,161.2 L242.1,161.3 L242.7,161.4 L243.3,161.5 L243.9,161.7 L244.5,161.8 L245.1,161.9 L245.7,162.0 L246.3,162.1 L246.9,162.2 L247.5,162.3 L248.1,162.4 L248.7,162.5 L249.3,162.6 L249.9,162.7 L250.5,162.8 L251.1,162.9 L251.7,163.0 L252.3,163.1 L252.9,163.3 L253.5,163.5 L254.1,163.6 L254.7,163.8 L255.3,164.0 L255.9,164.2 L256.5,164.4 L257.1,164.7 L257.7,164.9 L258.3,165.1 L258.9,165.3 L259.5,165.5 L260.1,165.7 L260.7,165.9 L261.3,166.2 L261.9,166.4 L262.5,166.6 L263.1,166.8 L263.7,167.0 L264.3,167.2 L264.9,167.4 L265.5,167.6 L266.1,167.8 L266.7,168.0 L267.3,168.2 L267.9,168.4 L268.5,168.7 L269.1,168.9 L269.7,169.1 L270.3,169.3 L270.9,169.5 L271.5,169.7 L272.1,169.9 L272.7,170.1 L273.3,170.3 L273.9,170.6 L274.5,170.9 L275.1,171.2 L275.7,171.4 L276.3,171.7 L276.9,172.0 L277.5,172.3 L278.1,172.5 L278.7,172.8 L279.3,173.1 L279.9,173.4 L280.5,173.6 L281.1,173.9 L281.7,174.2 L282.3,174.4 L282.9,174.5 L283.5,174.7 L284.1,174.9 L284.7,175.0 L285.3,175.2 L285.9,175.4 L286.5,175.5 L287.1,175.7 L287.7,175.9 L288.3,176.1 L288.9,176.2 L289.5,176.4 L290.1,176.6 L290.7,176.7 L291.3,177.0 L291.9,177.3 L292.5,177.6 L293.1,177.8 L293.7,178.1 L294.3,178.4 L294.9,178.6 L295.5,178.9 L296.1,179.2 L296.7,179.4 L297.3,179.7 L297.9,180.0 L298.5,180.3 L299.1,180.6 L299.7,180.9 L300.3,181.2 L300.9,181.5 L301.5,181.8 L302.1,182.1 L302.7,182.4 L303.3,182.7 L303.9,183.0 L304.5,183.3 L305.1,183.5 L305.7,183.8 L306.3,184.1 L306.9,184.3 L307.5,184.6 L308.1,184.9 L308.7,185.2 L309.3,185.4 L309.9,185.7 L310.5,186.0 L311.1,186.2 L311.7,186.5 L312.3,186.9 L312.9,187.4 L313.5,187.9 L314.1,188.4 L314.7,188.9 L315.3,189.4 L315.9,189.9 L316.5,190.1 L317.1,189.8 L317.7,189.5 L318.3,189.2 L318.9,188.9 L319.5,188.9 L320.1,189.1 L320.7,189.3 L321.3,189.5 L321.9,189.7 L322.5,189.8 L323.1,190.0 L323.7,190.2 L324.3,190.4 L324.9,190.5 L325.5,190.7 L326.1,190.9 L326.7,191.1 L327.3,191.2 L327.9,191.4 L328.5,191.6 L329.1,191.7 L329.7,191.9 L330.3,192.0 L330.9,192.2 L331.5,192.4 L332.1,192.5 L332.7,192.7 L333.3,192.9 L333.9,193.0 L334.5,193.2 L335.1,193.3 L335.7,193.5 L336.3,193.7 L336.9,193.8 L337.5,193.9 L338.1,193.9 L338.7,194.0 L339.3,194.1 L339.9,194.2 L340.5,194.2 L341.1,194.3 L341.7,194.4 L342.3,194.4 L342.9,194.5 L343.5,194.6 L344.1,194.6 L344.7,194.7 L345.3,194.8 L345.9,194.8 L346.5,194.9 L347.1,195.0 L347.7,195.0 L348.3,195.1 L348.9,195.2 L349.5,195.2 L350.1,195.3 L350.7,195.3 L351.3,195.4 L351.9,195.5 L352.5,195.5 L353.1,195.6 L353.7,195.6 L354.3,195.7 L354.9,195.8 L355.5,195.8 L356.1,195.9 L356.7,196.1 L357.3,196.4 L357.9,196.7 L358.5,197.0 L359.1,197.3 L359.7,197.6 L360.3,197.9 L360.9,198.2 L361.5,198.5 L362.1,198.6 L362.7,198.7 L363.3,198.8 L363.9,198.8 L364.5,198.9 L365.1,199.0 L365.7,199.1 L366.3,199.1 L366.9,199.2 L367.5,199.3 L368.1,199.3 L368.7,199.4 L369.3,199.6 L369.9,199.8 L370.5,200.0 L371.1,200.1 L371.7,200.3 L372.3,200.5 L372.9,200.7 L373.5,200.9 L374.1,201.1 L374.7,201.3 L375.3,201.5 L375.9,201.7 L376.5,201.9 L377.1,202.1 L377.7,202.3 L378.3,202.4 L378.9,202.3 L379.5,202.3 L380.1,202.2 L380.7,202.2 L381.3,202.1 L381.9,202.1 L382.5,202.0 L383.1,202.0 L383.7,201.9 L384.3,201.9 L384.9,201.8 L385.5,201.8 L386.1,201.7 L386.7,201.7 L387.3,201.6 L387.9,201.6 L388.5,201.9 L389.1,202.1 L389.7,202.3 L390.3,202.6 L390.9,202.8 L391.5,203.0 L392.1,203.3 L392.7,203.5 L393.3,203.7 L393.9,204.0 L394.5,204.2 L395.1,204.4 L395.7,204.7 L396.3,204.9 L396.9,205.1 L397.5,205.4 L398.1,205.6 L398.7,205.8 L399.3,206.1 L399.9,206.3 L400.5,206.3 L401.1,206.1 L401.7,205.9 L402.3,205.7 L402.9,205.4 L403.5,205.2 L404.1,205.0 L404.7,204.8 L405.3,204.6 L405.9,204.4 L406.5,204.3 L407.1,204.6 L407.7,204.9 L408.3,205.2 L408.9,205.5 L409.5,205.8 L410.1,206.1 L410.7,206.4 L411.3,206.7 L411.9,207.0 L412.5,207.3 L413.1,207.6 L413.7,207.9 L414.3,208.2 L414.9,208.5 L415.5,208.8 L416.1,209.1 L416.7,209.3 L417.3,209.4 L417.9,209.5 L418.5,209.6 L419.1,209.7 L419.7,209.8 L420.3,209.9 L420.9,210.0 L421.5,210.1 L422.1,210.2 L422.7,210.3 L423.3,210.4 L423.9,210.5 L424.5,210.6 L425.1,210.7 L425.7,210.8 L426.3,210.9 L426.9,211.0 L427.5,211.2 L428.1,211.4 L428.7,211.7 L429.3,211.9 L429.9,212.1 L430.5,212.3 L431.1,212.5 L431.7,212.7 L432.3,213.0 L432.9,213.2 L433.5,213.4 L434.1,213.6 L434.7,213.8 L435.3,214.1 L435.9,214.3 L436.5,214.5 L437.1,214.7 L437.7,214.9 L438.3,214.8 L438.9,214.6 L439.5,214.5 L440.1,214.4 L440.7,214.3 L441.3,214.2 L441.9,214.1 L442.5,213.9 L443.1,213.8 L443.7,213.7 L444.3,213.6 L444.9,213.6 L445.5,213.8 L446.1,214.0 L446.7,214.3 L447.3,214.5 L447.9,214.7 L448.5,215.0 L449.1,215.2 L449.7,215.4 L450.3,215.7 L450.9,215.9 L451.5,216.1 L452.1,216.4 L452.7,216.6 L453.3,216.8 L453.9,217.1 L454.5,217.3 L455.1,217.5 L455.7,217.8 L456.3,218.0 L456.9,218.3 L457.5,218.5 L458.1,218.7 L458.7,219.0 L459.3,219.2 L459.9,219.5 L460.5,219.7 L461.1,220.0 L461.7,220.2 L462.3,220.5 L462.9,220.7 L463.5,220.9 L464.1,221.2 L464.7,221.4 L465.3,221.7 L465.9,221.9 L466.5,222.2 L467.1,222.4 L467.7,222.7 L468.3,222.9 L468.9,223.1 L469.5,223.4 L470.1,223.6 L470.7,223.8 L471.3,224.1 L471.9,224.3 L472.5,224.5 L473.1,224.8 L473.7,225.0 L474.3,225.3 L474.9,225.5 L475.5,225.7 L476.1,226.0 L476.7,226.2 L477.3,226.6 L477.9,227.1 L478.5,227.5 L479.1,228.0 L479.7,228.4 L480.3,228.9 L480.9,229.3 L481.5,229.8 L482.1,230.2 L482.7,230.6 L483.3,231.1 L483.9,231.5 L484.5,232.0 L485.1,232.4 L485.7,232.8 L486.3,233.0 L486.9,233.3 L487.5,233.5 L488.1,233.7 L488.7,233.9 L489.3,234.1 L489.9,234.3 L490.5,234.5 L491.1,234.7 L491.7,234.9 L492.3,235.2 L492.9,235.4 L493.5,235.6 L494.1,235.8 L494.7,236.0 L495.3,236.2 L495.9,236.4 L496.5,236.6 L497.1,236.8 L497.7,237.1 L498.3,237.3 L498.9,237.5 L499.5,237.7 L500.1,237.9 L500.7,238.2 L501.3,238.5 L501.9,238.8 L502.5,239.1 L503.1,239.4 L503.7,239.6 L504.3,239.9 L504.9,240.2 L505.5,240.5 L506.1,240.8 L506.7,241.1 L507.3,241.3 L507.9,241.6 L508.5,241.9 L509.1,242.2 L509.7,242.5 L510.3,242.8 L510.9,243.0 L511.5,243.2 L512.1,243.4 L512.7,243.6 L513.3,243.7 L513.9,243.9 L514.5,244.1 L515.1,244.3 L515.7,244.5 L516.3,244.7 L516.9,244.9 L517.5,245.1 L518.1,245.3 L518.7,245.5 L519.3,245.7 L519.9,245.9 L520.5,246.1 L521.1,246.3 L521.7,246.6 L522.3,246.9 L522.9,247.3 L523.5,247.6 L524.1,247.9 L524.7,248.2 L525.3,248.5 L525.9,248.8 L526.5,249.2 L527.1,249.5 L527.7,249.8 L528.3,250.1 L528.9,250.4 L529.5,250.7 L530.1,251.1 L530.7,251.4 L531.3,251.7 L531.9,252.0 L532.5,252.3 L533.1,252.6 L533.7,252.9 L534.3,253.1 L534.9,253.3 L535.5,253.5 L536.1,253.7 L536.7,253.9 L537.3,254.1 L537.9,254.3 L538.5,254.5 L539.1,254.7 L539.7,254.9 L540.3,255.1 L540.9,255.3 L541.5,255.8 L542.1,256.2 L542.7,256.6 L543.3,257.0 L543.9,257.4 L544.5,257.8 L545.1,258.3 L545.7,258.7 L546.3,259.1 L546.9,259.5 L547.5,259.9 L548.1,260.4 L548.7,260.8 L549.3,261.2 L549.9,261.4 L550.5,261.4 L551.1,261.5 L551.7,261.5 L552.3,261.5 L552.9,261.5 L553.5,261.6 L554.1,261.6 L554.7,261.6 L555.3,261.7 L555.9,261.7 L556.5,261.7 L557.1,261.7 L557.7,261.8 L558.3,261.8 L558.9,262.0 L559.5,262.2 L560.1,262.5 L560.7,262.7 L561.3,262.9 L561.9,263.1 L562.5,263.4 L563.1,263.6 L563.7,263.8 L564.3,264.1 L564.9,264.3 L565.5,264.5 L566.1,264.8 L566.7,265.1 L567.3,265.5 L567.9,265.8 L568.5,266.2 L569.1,266.6 L569.7,266.9 L570.3,267.3 L570.9,267.7 L571.5,268.0 L572.1,268.4 L572.7,268.7 L573.3,269.1 L573.9,269.5 L574.5,269.8 L575.1,270.2 L575.7,270.6 L576.3,270.9 L576.9,271.3 L577.5,271.7 L578.1,272.0 L578.7,272.4 L579.3,272.8 L579.9,273.1 L580.5,273.4 L581.1,273.7 L581.7,274.0 L582.3,274.3 L582.9,274.6 L583.5,274.9 L584.1,275.2 L584.7,275.5 L585.3,275.8 L585.9,276.1 L586.5,276.4 L587.1,276.7 L587.7,277.2 L588.3,277.6 L588.9,278.1 L589.5,278.5 L590.1,279.0 L590.7,279.4 L591.3,279.9 L591.9,280.3 L592.5,280.8 L593.1,281.3 L593.7,281.7 L594.3,282.2 L594.9,282.6 L595.5,283.1 L596.1,283.5 L596.7,283.9 L597.3,284.1 L597.9,284.3 L598.5,284.5 L599.1,284.7 L599.7,284.9 L600.3,285.0 L600.9,285.2 L601.5,285.4 L602.1,285.6 L602.7,285.8 L603.3,286.0 L603.9,286.1 L604.5,286.3 L605.1,286.5 L605.7,286.7 L606.3,286.9 L606.9,287.1 L607.5,287.4 L608.1,287.7 L608.7,288.0 L609.3,288.3 L609.9,288.6 L610.5,288.9 L611.1,289.2 L611.7,289.5 L612.3,289.8 L612.9,290.1 L613.5,290.7 L614.1,291.3 L614.7,291.9 L615.3,292.6 L615.9,293.2 L616.5,293.8 L617.1,294.4 L617.7,295.0 L618.3,295.6 L618.9,296.3 L619.5,296.9 L620.1,297.5 L620.7,298.1 L621.3,298.7 L621.9,299.3 L622.5,300.0 L623.1,300.6 L623.7,301.2 L624.3,301.5 L624.9,301.7 L625.5,301.9 L626.1,302.1 L626.7,302.3 L627.3,302.5 L627.9,302.7 L628.5,302.9 L629.1,302.7 L629.7,302.5 L630.3,302.3 L630.9,302.2 L631.5,302.0 L632.1,301.8 L632.7,301.6 L633.3,301.4 L633.9,301.3 L634.5,301.1 L635.1,300.9 L635.7,300.7 L636.3,300.5 L636.9,300.4 L637.5,300.2 L638.1,300.1 L638.7,300.2 L639.3,300.3 L639.9,300.4 L640.5,300.5 L641.1,300.8 L641.7,301.5 L642.3,302.2 L642.9,302.9 L643.5,303.5 L644.1,304.2 L644.7,304.9 L645.3,305.6 L645.9,306.2 L646.5,306.9 L647.1,307.6 L647.7,308.3 L648.3,308.9 L648.9,309.6 L649.5,310.3 L650.1,310.9 L650.7,311.6 L651.3,312.2 L651.9,312.9 L652.5,313.6 L653.1,314.2 L653.7,314.9 L653.8,315.0" stroke="#62b040" stroke-width="2.2" fill="none" stroke-linejoin="round" stroke-linecap="butt"/>
<path d="M117.9,174.4 L118.5,175.1 L119.1,174.8 L119.7,174.0 L120.3,174.0 L120.9,175.2 L121.5,176.5 L122.1,176.5 L122.7,175.3 L123.3,174.1 L123.9,174.2 L124.5,175.6 L125.1,176.8 L125.7,176.8 L126.3,175.9 L126.9,175.5 L127.5,176.2 L128.1,177.1 L128.7,177.1 L129.3,176.1 L129.9,175.4 L130.5,176.3 L131.1,178.3 L131.7,179.8 L132.3,179.7 L132.9,178.7 L133.5,178.3 L134.1,179.2 L134.7,180.8 L135.3,181.6 L135.9,181.3 L136.5,181.1 L137.1,181.9 L137.7,183.5 L138.3,184.4 L138.9,184.0 L139.5,182.9 L140.1,182.5 L140.7,183.7 L141.3,185.4 L141.9,186.1 L142.5,185.4 L143.1,184.6 L143.7,184.7 L144.3,185.9 L144.9,186.7 L145.5,186.5 L146.1,185.7 L146.7,185.9 L147.3,187.3 L147.9,189.0 L148.5,189.5 L149.1,188.5 L149.7,187.6 L150.3,187.9 L150.9,189.5 L151.5,191.0 L152.1,191.5 L152.7,191.1 L153.3,191.3 L153.9,192.7 L154.5,194.4 L155.1,195.0 L155.7,194.6 L156.3,194.4 L156.9,195.7 L157.5,197.7 L158.1,199.2 L158.7,199.2 L159.3,198.2 L159.9,197.8 L160.5,198.6 L161.1,198.6 L161.7,197.6 L162.3,195.6 L162.9,193.7 L163.5,192.9 L164.1,192.9 L164.7,192.8 L165.3,191.1 L165.9,188.8 L166.5,187.4 L167.1,187.4 L167.7,188.0 L168.3,187.8 L168.9,186.3 L169.5,184.7 L170.1,183.9 L170.7,183.9 L171.3,183.5 L171.9,182.2 L172.5,180.6 L173.1,179.9 L173.7,180.1 L174.3,180.6 L174.9,180.1 L175.5,178.6 L176.1,177.3 L176.7,177.8 L177.3,179.1 L177.9,180.2 L178.5,181.1 L179.1,183.4 L179.7,186.1 L180.3,189.4 L180.9,192.7 L181.5,195.4 L182.1,197.7 L182.7,200.3 L183.3,203.5 L183.9,207.1 L184.5,210.6 L185.1,211.9 L185.7,212.1 L186.3,212.4 L186.9,213.2 L187.5,214.0 L188.1,214.6 L188.7,215.0 L189.3,215.5 L189.9,213.9 L190.5,211.3 L191.1,208.5 L191.7,205.6 L192.3,202.5 L192.9,199.7 L193.5,198.6 L194.1,197.9 L194.7,197.1 L195.3,196.3 L195.9,195.6 L196.5,194.8 L197.1,194.0 L197.7,193.2 L198.3,192.8 L198.9,192.3 L199.5,191.9 L200.1,191.5 L200.7,191.1 L201.3,190.7 L201.9,190.3 L202.5,189.9 L203.1,189.4 L203.7,189.0 L204.3,188.6 L204.9,188.2 L205.5,188.4 L206.1,188.6 L206.7,188.9 L207.3,189.1 L207.9,189.3 L208.5,189.5 L209.1,189.7 L209.7,190.0 L210.3,190.2 L210.9,190.4 L211.5,190.6 L212.1,190.7 L212.7,190.4 L213.3,190.0 L213.9,189.7 L214.5,189.3 L215.1,189.0 L215.7,188.6 L216.3,188.2 L216.9,187.9 L217.5,187.5 L218.1,187.4 L218.7,187.9 L219.3,188.3 L219.9,188.7 L220.5,189.1 L221.1,189.5 L221.7,189.6 L222.3,188.8 L222.9,188.1 L223.5,187.4 L224.1,186.7 L224.7,186.0 L225.3,186.0 L225.9,186.9 L226.5,187.7 L227.1,188.5 L227.7,189.4 L228.3,189.4 L228.9,188.5 L229.5,187.7 L230.1,186.9 L230.7,186.0 L231.3,186.0 L231.9,186.7 L232.5,187.4 L233.1,188.1 L233.7,188.8 L234.3,189.6 L234.9,189.5 L235.5,188.9 L236.1,188.4 L236.7,187.9 L237.3,187.4 L237.9,186.9 L238.5,186.4 L239.1,186.3 L239.7,186.6 L240.3,186.8 L240.9,187.0 L241.5,187.2 L242.1,187.5 L242.7,187.7 L243.3,187.9 L243.9,188.1 L244.5,188.3 L245.1,188.6 L245.7,188.7 L246.3,188.9 L246.9,189.0 L247.5,189.2 L248.1,189.3 L248.7,189.5 L249.3,189.6 L249.9,189.8 L250.5,189.9 L251.1,190.1 L251.7,190.2 L252.3,190.4 L252.9,190.4 L253.5,190.5 L254.1,190.5 L254.7,190.6 L255.3,190.7 L255.9,191.0 L256.5,191.3 L257.1,191.6 L257.7,191.9 L258.3,192.2 L258.9,192.5 L259.5,192.8 L260.1,193.1 L260.7,193.4 L261.3,193.7 L261.9,194.0 L262.5,194.3 L263.1,194.6 L263.7,194.9 L264.3,195.2 L264.9,195.4 L265.5,195.6 L266.1,195.9 L266.7,196.1 L267.3,196.4 L267.9,196.6 L268.5,196.9 L269.1,197.1 L269.7,197.3 L270.3,197.6 L270.9,197.8 L271.5,198.1 L272.1,198.3 L272.7,198.6 L273.3,198.8 L273.9,199.1 L274.5,199.4 L275.1,199.6 L275.7,199.9 L276.3,200.2 L276.9,200.4 L277.5,200.7 L278.1,201.0 L278.7,201.3 L279.3,201.5 L279.9,201.8 L280.5,202.1 L281.1,202.3 L281.7,202.6 L282.3,202.9 L282.9,203.2 L283.5,203.6 L284.1,203.9 L284.7,204.2 L285.3,204.5 L285.9,204.9 L286.5,205.2 L287.1,205.5 L287.7,205.8 L288.3,206.2 L288.9,206.5 L289.5,206.8 L290.1,207.1 L290.7,207.5 L291.3,207.8 L291.9,208.1 L292.5,208.4 L293.1,208.7 L293.7,209.0 L294.3,209.3 L294.9,209.6 L295.5,209.9 L296.1,210.2 L296.7,210.5 L297.3,210.8 L297.9,211.1 L298.5,211.4 L299.1,211.7 L299.7,212.0 L300.3,212.3 L300.9,212.6 L301.5,212.9 L302.1,213.2 L302.7,213.5 L303.3,214.1 L303.9,214.8 L304.5,215.5 L305.1,216.2 L305.7,216.9 L306.3,217.6 L306.9,218.3 L307.5,219.0 L308.1,219.7 L308.7,220.1 L309.3,220.4 L309.9,220.7 L310.5,221.0 L311.1,221.3 L311.7,221.6 L312.3,221.9 L312.9,222.2 L313.5,222.5 L314.1,222.8 L314.7,223.1 L315.3,223.4 L315.9,223.7 L316.5,224.0 L317.1,224.3 L317.7,224.5 L318.3,224.7 L318.9,224.9 L319.5,225.2 L320.1,225.4 L320.7,225.6 L321.3,225.9 L321.9,226.1 L322.5,226.3 L323.1,226.5 L323.7,226.8 L324.3,227.0 L324.9,227.2 L325.5,227.5 L326.1,227.7 L326.7,228.0 L327.3,228.2 L327.9,228.5 L328.5,228.7 L329.1,228.9 L329.7,229.2 L330.3,229.4 L330.9,229.7 L331.5,229.9 L332.1,230.2 L332.7,230.4 L333.3,230.6 L333.9,230.9 L334.5,231.1 L335.1,231.4 L335.7,231.7 L336.3,231.9 L336.9,232.2 L337.5,232.4 L338.1,232.7 L338.7,232.9 L339.3,233.2 L339.9,233.4 L340.5,233.6 L341.1,233.8 L341.7,233.9 L342.3,234.0 L342.9,234.1 L343.5,234.2 L344.1,234.4 L344.7,234.5 L345.3,234.6 L345.9,234.7 L346.5,234.9 L347.1,235.0 L347.7,235.1 L348.3,235.2 L348.9,235.3 L349.5,235.5 L350.1,235.7 L350.7,236.0 L351.3,236.2 L351.9,236.4 L352.5,236.6 L353.1,236.8 L353.7,237.1 L354.3,237.3 L354.9,237.5 L355.5,237.7 L356.1,237.9 L356.7,238.2 L357.3,238.4 L357.9,238.6 L358.5,238.8 L359.1,239.0 L359.7,239.3 L360.3,239.5 L360.9,239.7 L361.5,239.9 L362.1,240.2 L362.7,240.5 L363.3,240.9 L363.9,241.2 L364.5,241.5 L365.1,241.9 L365.7,242.2 L366.3,242.5 L366.9,242.9 L367.5,243.2 L368.1,243.5 L368.7,243.8 L369.3,244.1 L369.9,244.4 L370.5,244.6 L371.1,244.9 L371.7,245.2 L372.3,245.4 L372.9,245.7 L373.5,245.9 L374.1,246.2 L374.7,246.5 L375.3,246.7 L375.9,246.9 L376.5,247.2 L377.1,247.4 L377.7,247.6 L378.3,247.8 L378.9,248.0 L379.5,248.3 L380.1,248.5 L380.7,248.7 L381.3,248.9 L381.9,249.1 L382.5,249.3 L383.1,249.5 L383.7,249.6 L384.3,249.8 L384.9,250.0 L385.5,250.2 L386.1,250.4 L386.7,250.6 L387.3,250.8 L387.9,251.0 L388.5,251.2 L389.1,251.3 L389.7,251.5 L390.3,251.7 L390.9,251.9 L391.5,252.1 L392.1,252.3 L392.7,252.5 L393.3,252.7 L393.9,252.9 L394.5,253.1 L395.1,253.3 L395.7,253.6 L396.3,253.8 L396.9,254.0 L397.5,254.2 L398.1,254.4 L398.7,254.7 L399.3,254.9 L399.9,255.1 L400.5,255.3 L401.1,255.5 L401.7,255.8 L402.3,256.0 L402.9,256.2 L403.5,256.4 L404.1,256.6 L404.7,256.9 L405.3,257.1 L405.9,257.3 L406.5,257.5 L407.1,257.6 L407.7,257.8 L408.3,258.0 L408.9,258.1 L409.5,258.3 L410.1,258.5 L410.7,258.6 L411.3,258.8 L411.9,259.0 L412.5,259.2 L413.1,259.3 L413.7,259.5 L414.3,259.7 L414.9,260.0 L415.5,260.4 L416.1,260.8 L416.7,261.2 L417.3,261.6 L417.9,261.9 L418.5,262.3 L419.1,262.7 L419.7,263.1 L420.3,263.5 L420.9,263.9 L421.5,264.2 L422.1,264.2 L422.7,264.1 L423.3,263.9 L423.9,263.8 L424.5,263.7 L425.1,263.6 L425.7,263.4 L426.3,263.3 L426.9,263.2 L427.5,263.6 L428.1,263.9 L428.7,264.3 L429.3,264.7 L429.9,265.0 L430.5,265.4 L431.1,265.7 L431.7,266.1 L432.3,266.5 L432.9,266.8 L433.5,267.2 L434.1,267.6 L434.7,267.9 L435.3,268.3 L435.9,268.6 L436.5,268.4 L437.1,268.3 L437.7,268.1 L438.3,268.0 L438.9,267.8 L439.5,267.7 L440.1,267.5 L440.7,267.4 L441.3,267.4 L441.9,267.8 L442.5,268.2 L443.1,268.6 L443.7,269.0 L444.3,269.4 L444.9,269.8 L445.5,270.2 L446.1,270.6 L446.7,271.0 L447.3,271.4 L447.9,271.8 L448.5,272.2 L449.1,272.6 L449.7,273.0 L450.3,273.3 L450.9,273.4 L451.5,273.6 L452.1,273.8 L452.7,273.9 L453.3,274.1 L453.9,274.2 L454.5,274.4 L455.1,274.6 L455.7,274.7 L456.3,274.9 L456.9,275.0 L457.5,275.4 L458.1,275.8 L458.7,276.3 L459.3,276.7 L459.9,277.2 L460.5,277.6 L461.1,278.1 L461.7,278.5 L462.3,279.0 L462.9,279.4 L463.5,279.9 L464.1,280.3 L464.7,280.8 L465.3,281.2 L465.9,281.7 L466.5,282.1 L467.1,282.6 L467.7,283.0 L468.3,283.4 L468.9,283.8 L469.5,284.1 L470.1,284.5 L470.7,284.8 L471.3,285.2 L471.9,285.5 L472.5,285.9 L473.1,286.3 L473.7,286.6 L474.3,287.0 L474.9,287.3 L475.5,287.7 L476.1,288.0 L476.7,288.4 L477.3,288.8 L477.9,289.2 L478.5,289.6 L479.1,289.9 L479.7,290.3 L480.3,290.7 L480.9,291.1 L481.5,291.5 L482.1,291.9 L482.7,292.3 L483.3,292.7 L483.9,293.0 L484.5,293.4 L485.1,293.8 L485.7,294.2 L486.3,294.6 L486.9,295.0 L487.5,295.4 L488.1,295.8 L488.7,296.1 L489.3,296.5 L489.9,296.8 L490.5,297.1 L491.1,297.4 L491.7,297.7 L492.3,298.0 L492.9,298.3 L493.5,298.6 L494.1,298.9 L494.7,299.2 L495.3,299.5 L495.9,299.8 L496.5,300.1 L497.1,300.4 L497.7,300.7 L498.3,301.0 L498.9,301.3 L499.5,301.6 L500.1,301.9 L500.7,302.2 L501.3,302.5 L501.9,302.8 L502.5,303.0 L503.1,303.2 L503.7,303.5 L504.3,303.7 L504.9,303.9 L505.5,304.1 L506.1,304.3 L506.7,304.6 L507.3,304.8 L507.9,305.0 L508.5,305.2 L509.1,305.6 L509.7,306.0 L510.3,306.4 L510.9,306.8 L511.5,307.2 L512.1,307.7 L512.7,308.1 L513.3,308.5 L513.9,308.9 L514.5,309.3 L515.1,309.7 L515.7,310.2 L516.3,310.6 L516.9,311.0 L517.5,311.4 L518.1,311.8 L518.7,312.2 L519.3,312.7 L519.9,313.1 L520.5,313.5 L521.1,313.9 L521.7,314.5 L522.3,315.0 L522.9,315.6 L523.5,316.1 L524.1,316.7 L524.7,317.3 L525.3,317.8 L525.9,318.4 L526.5,318.9 L527.1,319.5 L527.7,320.1 L528.3,320.6 L528.9,321.2 L529.5,321.7 L530.1,322.2 L530.7,322.3 L531.3,322.3 L531.9,322.4 L532.5,322.5 L533.1,322.5 L533.7,322.6 L534.3,322.6 L534.9,322.7 L535.5,322.8 L536.1,322.8 L536.7,322.9 L537.3,322.9 L537.9,323.0 L538.5,323.1 L539.1,323.2 L539.7,323.4 L540.3,323.6 L540.9,323.8 L541.5,324.0 L542.1,324.2 L542.7,324.4 L543.3,324.6 L543.9,324.8 L544.5,325.0 L545.1,325.2 L545.7,325.4 L546.3,325.6 L546.9,325.8 L547.5,326.0 L548.1,326.2 L548.7,326.4 L549.3,326.6 L549.9,326.9 L550.5,327.2 L551.1,327.6 L551.7,327.9 L552.3,328.3 L552.9,328.6 L553.5,329.0 L554.1,329.3 L554.7,329.7 L555.3,330.0 L555.9,330.4 L556.5,330.7 L557.1,331.1 L557.7,331.4 L558.3,331.8 L558.9,332.1 L559.5,332.5 L560.1,332.8 L560.7,333.3 L561.3,333.7 L561.9,334.2 L562.5,334.7 L563.1,335.1 L563.7,335.6 L564.3,336.0 L564.9,336.5 L565.5,336.9 L566.1,337.4 L566.7,337.9 L567.3,338.3 L567.9,338.8 L568.5,339.1 L569.1,339.5 L569.7,339.8 L570.3,340.2 L570.9,340.5 L571.5,340.9 L572.1,341.2 L572.7,341.6 L573.3,341.9 L573.9,342.3 L574.5,342.7 L575.1,343.0 L575.7,343.4 L576.3,344.2 L576.9,345.0 L577.5,345.8 L578.1,346.5 L578.7,347.3 L579.3,348.1 L579.9,348.9 L580.5,349.7 L581.1,350.4 L581.7,351.2 L582.3,352.0 L582.9,352.8 L583.5,353.5 L584.1,354.3 L584.7,355.1 L585.3,355.9 L585.9,356.7 L586.5,357.4 L587.1,357.8 L587.7,358.2 L588.3,358.6 L588.9,359.0 L589.5,359.4 L590.1,359.8 L590.7,360.3 L591.3,360.7 L591.9,361.1 L592.5,361.5 L593.1,361.9 L593.7,362.3 L594.3,362.7 L594.9,363.1 L595.5,363.6 L596.1,364.0 L596.7,364.4 L597.3,364.8 L597.9,365.2 L598.5,365.6 L599.1,366.0 L599.7,366.5 L600.3,366.9 L600.9,367.3 L601.5,367.7 L602.1,368.1 L602.7,368.6 L603.3,369.0 L603.9,369.4 L604.5,369.8 L605.1,370.2 L605.7,370.7 L606.3,371.1 L606.9,371.5 L607.5,371.9 L608.1,372.3 L608.7,372.8 L609.3,373.2 L609.9,373.6 L610.5,374.0 L611.1,374.4 L611.7,374.9 L612.3,375.3 L612.9,375.7 L613.5,375.6 L614.1,375.5 L614.7,375.4 L615.3,375.4 L615.9,375.3 L616.5,375.2 L617.1,375.1 L617.7,375.0 L618.3,374.9 L618.9,374.9 L619.5,374.8 L620.1,374.7 L620.7,374.6 L621.3,374.5 L621.9,374.4 L622.5,374.6 L623.1,375.1 L623.7,375.6 L624.3,376.1 L624.9,376.6 L625.5,377.1 L626.1,377.6 L626.7,378.1 L627.3,378.6 L627.9,379.1 L628.5,379.6 L629.1,380.1 L629.7,380.6 L630.3,381.1 L630.9,381.6 L631.5,382.1 L632.1,382.5 L632.7,382.9 L633.3,383.2 L633.9,383.6 L634.5,383.9 L635.1,384.3 L635.7,384.6 L636.3,385.0 L636.9,385.3 L637.5,385.7 L638.1,386.0 L638.7,386.4 L639.3,386.8 L639.9,387.1 L640.5,387.5 L641.1,387.9 L641.7,388.4 L642.3,389.0 L642.9,389.6 L643.5,390.1 L644.1,390.7 L644.7,391.3 L645.3,391.8 L645.9,392.4 L646.5,392.9 L647.1,393.5 L647.7,394.1 L648.3,394.6 L648.9,395.2 L649.5,395.7 L650.1,396.3 L650.7,396.9 L651.3,397.4 L651.9,398.0 L652.5,398.6 L653.1,399.1 L653.3,399.3" stroke="#e2d830" stroke-width="2.2" fill="none" stroke-linejoin="round" stroke-linecap="butt"/>
<path d="M117.9,150.3 L118.5,150.4 L119.1,149.4 L119.7,148.7 L120.3,149.4 L120.9,150.6 L121.5,150.7 L122.1,149.3 L122.7,147.7 L123.3,148.2 L123.9,150.4 L124.5,152.6 L125.1,153.0 L125.7,151.9 L126.3,151.0 L126.9,151.7 L127.5,153.3 L128.1,153.9 L128.7,153.2 L129.3,152.4 L129.9,152.8 L130.5,154.5 L131.1,155.8 L131.7,155.3 L132.3,153.6 L132.9,152.7 L133.5,153.8 L134.1,156.0 L134.7,157.4 L135.3,157.1 L135.9,156.4 L136.5,156.9 L137.1,158.6 L137.7,160.2 L138.3,160.4 L138.9,159.7 L139.5,159.7 L140.1,161.5 L140.7,164.1 L141.3,165.4 L141.9,164.8 L142.5,163.6 L143.1,163.6 L143.7,165.2 L144.3,167.1 L144.9,167.7 L145.5,167.2 L146.1,167.2 L146.7,169.0 L147.3,171.6 L147.9,173.0 L148.5,172.7 L149.1,172.2 L149.7,173.3 L150.3,176.0 L150.9,178.6 L151.5,179.5 L152.1,179.0 L152.7,176.5 L153.3,174.5 L153.9,173.2 L154.5,174.0 L155.1,174.9 L155.7,175.6 L156.3,177.8 L156.9,180.5 L157.5,182.8 L158.1,183.3 L158.7,182.3 L159.3,181.9 L159.9,183.0 L160.5,185.2 L161.1,186.8 L161.7,186.7 L162.3,183.1 L162.9,179.9 L163.5,177.9 L164.1,175.6 L164.7,176.4 L165.3,176.2 L165.9,176.9 L166.5,179.5 L167.1,179.9 L167.7,179.3 L168.3,176.8 L168.9,173.7 L169.5,172.6 L170.1,172.8 L170.7,173.1 L171.3,172.4 L171.9,170.9 L172.5,169.9 L173.1,170.3 L173.7,171.0 L174.3,170.7 L174.9,169.3 L175.5,167.6 L176.1,167.3 L176.7,169.1 L177.3,170.9 L177.9,172.1 L178.5,174.3 L179.1,176.7 L179.7,179.8 L180.3,183.6 L180.9,187.2 L181.5,190.2 L182.1,193.2 L182.7,196.9 L183.3,201.0 L183.9,204.9 L184.5,208.1 L185.1,206.8 L185.7,203.6 L186.3,200.9 L186.9,202.2 L187.5,205.0 L188.1,207.5 L188.7,209.9 L189.3,212.5 L189.9,213.9 L190.5,214.4 L191.1,214.7 L191.7,211.3 L192.3,206.2 L192.9,201.4 L193.5,196.6 L194.1,196.4 L194.7,197.2 L195.3,198.0 L195.9,195.5 L196.5,192.3 L197.1,189.1 L197.7,189.8 L198.3,191.3 L198.9,192.8 L199.5,194.3 L200.1,195.3 L200.7,196.2 L201.3,197.2 L201.9,198.1 L202.5,195.5 L203.1,192.9 L203.7,190.2 L204.3,187.6 L204.9,185.0 L205.5,186.2 L206.1,187.4 L206.7,188.6 L207.3,189.8 L207.9,191.0 L208.5,192.5 L209.1,194.1 L209.7,195.6 L210.3,196.5 L210.9,194.1 L211.5,191.8 L212.1,189.4 L212.7,187.8 L213.3,189.9 L213.9,192.0 L214.5,194.2 L215.1,196.3 L215.7,197.7 L216.3,195.2 L216.9,192.7 L217.5,190.3 L218.1,188.9 L218.7,189.9 L219.3,190.9 L219.9,191.9 L220.5,192.9 L221.1,193.8 L221.7,194.3 L222.3,193.6 L222.9,192.9 L223.5,192.2 L224.1,191.5 L224.7,190.8 L225.3,190.1 L225.9,191.0 L226.5,193.3 L227.1,195.7 L227.7,198.1 L228.3,200.4 L228.9,200.7 L229.5,198.8 L230.1,196.9 L230.7,195.0 L231.3,193.1 L231.9,192.7 L232.5,194.0 L233.1,195.2 L233.7,196.4 L234.3,197.7 L234.9,197.7 L235.5,197.1 L236.1,196.5 L236.7,195.9 L237.3,195.3 L237.9,194.7 L238.5,194.7 L239.1,195.0 L239.7,195.3 L240.3,195.6 L240.9,195.9 L241.5,196.2 L242.1,196.5 L242.7,196.8 L243.3,197.1 L243.9,197.4 L244.5,197.7 L245.1,198.0 L245.7,198.3 L246.3,198.6 L246.9,198.9 L247.5,199.2 L248.1,199.5 L248.7,199.8 L249.3,200.1 L249.9,200.4 L250.5,200.7 L251.1,201.0 L251.7,201.3 L252.3,201.6 L252.9,202.1 L253.5,202.6 L254.1,203.1 L254.7,203.6 L255.3,204.1 L255.9,204.6 L256.5,205.0 L257.1,205.5 L257.7,205.9 L258.3,206.4 L258.9,206.8 L259.5,207.3 L260.1,207.7 L260.7,208.2 L261.3,208.6 L261.9,209.1 L262.5,209.4 L263.1,209.8 L263.7,210.1 L264.3,210.5 L264.9,210.8 L265.5,211.2 L266.1,211.5 L266.7,211.9 L267.3,212.2 L267.9,212.6 L268.5,212.9 L269.1,213.3 L269.7,213.6 L270.3,214.0 L270.9,214.3 L271.5,214.6 L272.1,215.0 L272.7,215.3 L273.3,215.8 L273.9,216.4 L274.5,216.9 L275.1,217.5 L275.7,218.0 L276.3,218.5 L276.9,219.1 L277.5,219.6 L278.1,220.2 L278.7,220.7 L279.3,221.2 L279.9,221.8 L280.5,222.3 L281.1,222.9 L281.7,223.4 L282.3,223.8 L282.9,224.2 L283.5,224.7 L284.1,225.1 L284.7,225.5 L285.3,225.9 L285.9,226.4 L286.5,226.8 L287.1,227.2 L287.7,227.6 L288.3,228.1 L288.9,228.5 L289.5,228.9 L290.1,229.3 L290.7,229.8 L291.3,230.4 L291.9,231.0 L292.5,231.6 L293.1,232.2 L293.7,232.8 L294.3,233.4 L294.9,234.0 L295.5,234.7 L296.1,235.3 L296.7,235.9 L297.3,236.5 L297.9,237.1 L298.5,237.7 L299.1,238.3 L299.7,238.9 L300.3,239.4 L300.9,239.9 L301.5,240.5 L302.1,241.0 L302.7,241.6 L303.3,242.1 L303.9,242.6 L304.5,243.2 L305.1,243.7 L305.7,244.3 L306.3,244.8 L306.9,245.3 L307.5,245.9 L308.1,246.4 L308.7,246.8 L309.3,247.2 L309.9,247.6 L310.5,248.0 L311.1,248.3 L311.7,248.7 L312.3,249.1 L312.9,249.5 L313.5,249.8 L314.1,250.2 L314.7,250.6 L315.3,250.9 L315.9,251.4 L316.5,251.8 L317.1,252.3 L317.7,252.7 L318.3,253.1 L318.9,253.6 L319.5,254.0 L320.1,254.5 L320.7,254.9 L321.3,255.3 L321.9,255.8 L322.5,256.2 L323.1,256.7 L323.7,257.2 L324.3,257.7 L324.9,258.3 L325.5,258.8 L326.1,259.3 L326.7,259.8 L327.3,260.3 L327.9,260.8 L328.5,260.6 L329.1,260.4 L329.7,260.1 L330.3,259.9 L330.9,259.7 L331.5,259.6 L332.1,260.0 L332.7,260.4 L333.3,260.8 L333.9,261.2 L334.5,261.6 L335.1,262.0 L335.7,262.4 L336.3,262.8 L336.9,263.2 L337.5,263.6 L338.1,264.0 L338.7,264.4 L339.3,264.8 L339.9,265.2 L340.5,265.7 L341.1,266.1 L341.7,266.5 L342.3,266.9 L342.9,267.4 L343.5,267.8 L344.1,268.2 L344.7,268.7 L345.3,269.1 L345.9,269.5 L346.5,270.0 L347.1,270.4 L347.7,270.7 L348.3,271.0 L348.9,271.3 L349.5,271.5 L350.1,271.8 L350.7,272.0 L351.3,272.3 L351.9,272.6 L352.5,272.8 L353.1,273.1 L353.7,273.3 L354.3,273.6 L354.9,273.9 L355.5,274.1 L356.1,274.4 L356.7,274.6 L357.3,274.9 L357.9,275.2 L358.5,275.4 L359.1,275.7 L359.7,275.9 L360.3,276.2 L360.9,276.5 L361.5,276.7 L362.1,277.1 L362.7,277.5 L363.3,278.0 L363.9,278.4 L364.5,278.8 L365.1,279.3 L365.7,279.7 L366.3,280.1 L366.9,280.6 L367.5,281.0 L368.1,281.4 L368.7,281.9 L369.3,282.3 L369.9,282.7 L370.5,283.2 L371.1,283.7 L371.7,284.2 L372.3,284.6 L372.9,285.1 L373.5,285.6 L374.1,286.1 L374.7,286.5 L375.3,287.0 L375.9,287.5 L376.5,288.0 L377.1,288.4 L377.7,288.9 L378.3,289.4 L378.9,289.9 L379.5,290.3 L380.1,290.8 L380.7,291.3 L381.3,291.6 L381.9,291.9 L382.5,292.2 L383.1,292.5 L383.7,292.8 L384.3,293.1 L384.9,293.4 L385.5,293.7 L386.1,294.0 L386.7,294.3 L387.3,294.6 L387.9,294.9 L388.5,295.2 L389.1,295.5 L389.7,295.9 L390.3,296.2 L390.9,296.5 L391.5,296.8 L392.1,297.2 L392.7,297.5 L393.3,297.8 L393.9,298.2 L394.5,298.5 L395.1,298.8 L395.7,299.1 L396.3,299.5 L396.9,299.8 L397.5,300.1 L398.1,300.5 L398.7,300.8 L399.3,301.1 L399.9,301.4 L400.5,301.8 L401.1,302.2 L401.7,302.6 L402.3,302.9 L402.9,303.3 L403.5,303.7 L404.1,304.1 L404.7,304.5 L405.3,304.9 L405.9,305.2 L406.5,305.6 L407.1,306.0 L407.7,306.4 L408.3,306.8 L408.9,307.1 L409.5,307.5 L410.1,307.9 L410.7,308.3 L411.3,308.7 L411.9,309.1 L412.5,309.4 L413.1,309.8 L413.7,310.2 L414.3,310.6 L414.9,311.0 L415.5,311.4 L416.1,311.7 L416.7,311.7 L417.3,311.7 L417.9,311.6 L418.5,311.5 L419.1,311.5 L419.7,311.4 L420.3,311.3 L420.9,311.3 L421.5,311.2 L422.1,311.6 L422.7,312.0 L423.3,312.4 L423.9,312.8 L424.5,313.2 L425.1,313.7 L425.7,314.1 L426.3,314.5 L426.9,314.9 L427.5,315.4 L428.1,315.8 L428.7,316.2 L429.3,316.6 L429.9,317.0 L430.5,317.5 L431.1,317.9 L431.7,318.3 L432.3,318.7 L432.9,319.2 L433.5,319.6 L434.1,320.0 L434.7,320.4 L435.3,320.8 L435.9,321.3 L436.5,321.6 L437.1,321.9 L437.7,322.2 L438.3,322.5 L438.9,322.8 L439.5,323.1 L440.1,323.4 L440.7,323.7 L441.3,324.0 L441.9,324.4 L442.5,324.7 L443.1,325.0 L443.7,325.3 L444.3,325.6 L444.9,325.9 L445.5,326.2 L446.1,326.5 L446.7,326.8 L447.3,327.1 L447.9,327.5 L448.5,327.8 L449.1,328.1 L449.7,328.4 L450.3,328.7 L450.9,329.0 L451.5,329.3 L452.1,329.6 L452.7,329.9 L453.3,330.2 L453.9,330.6 L454.5,331.1 L455.1,331.6 L455.7,332.1 L456.3,332.6 L456.9,333.1 L457.5,333.6 L458.1,334.1 L458.7,334.6 L459.3,335.1 L459.9,335.6 L460.5,336.1 L461.1,336.6 L461.7,337.0 L462.3,337.5 L462.9,338.0 L463.5,338.5 L464.1,339.0 L464.7,339.6 L465.3,340.1 L465.9,340.7 L466.5,341.2 L467.1,341.8 L467.7,342.3 L468.3,342.9 L468.9,343.4 L469.5,344.0 L470.1,344.5 L470.7,345.1 L471.3,345.6 L471.9,346.2 L472.5,346.7 L473.1,347.3 L473.7,347.8 L474.3,348.4 L474.9,348.9 L475.5,349.5 L476.1,350.0 L476.7,350.6 L477.3,351.1 L477.9,351.6 L478.5,352.2 L479.1,352.7 L479.7,353.2 L480.3,353.7 L480.9,354.2 L481.5,354.8 L482.1,355.3 L482.7,355.8 L483.3,356.3 L483.9,356.8 L484.5,357.4 L485.1,357.9 L485.7,358.4 L486.3,358.9 L486.9,359.4 L487.5,360.0 L488.1,360.5 L488.7,361.0 L489.3,361.5 L489.9,362.0 L490.5,362.6 L491.1,363.1 L491.7,363.6 L492.3,364.1 L492.9,364.6 L493.5,365.2 L494.1,365.7 L494.7,366.2 L495.3,366.7 L495.9,367.3 L496.5,367.8 L497.1,368.3 L497.7,368.8 L498.3,369.4 L498.9,369.9 L499.5,370.4 L500.1,370.9 L500.7,371.5 L501.3,372.0 L501.9,372.5 L502.5,373.0 L503.1,373.6 L503.7,374.1 L504.3,374.6 L504.9,375.1 L505.5,375.6 L506.1,376.2 L506.7,376.7 L507.3,377.2 L507.9,377.7 L508.5,378.2 L509.1,378.7 L509.7,379.2 L510.3,379.8 L510.9,380.3 L511.5,380.8 L512.1,381.3 L512.7,381.8 L513.3,382.3 L513.9,382.8 L514.5,383.3 L515.1,383.9 L515.7,384.4 L516.3,384.9 L516.9,385.4 L517.5,385.9 L518.1,386.3 L518.7,386.7 L519.3,387.0 L519.9,387.4 L520.5,387.7 L521.1,388.1 L521.7,388.5 L522.3,388.8 L522.9,389.2 L523.5,389.6 L524.1,389.9 L524.7,390.3 L525.3,390.6 L525.9,391.0 L526.5,391.4 L527.1,391.8 L527.7,392.3 L528.3,392.7 L528.9,393.2 L529.5,393.6 L530.1,394.1 L530.7,394.5 L531.3,395.0 L531.9,395.4 L532.5,395.9 L533.1,396.3 L533.7,396.7 L534.3,397.0 L534.9,397.3 L535.5,397.6 L536.1,397.9 L536.7,398.2 L537.3,398.5 L537.9,398.8 L538.5,399.1 L539.1,399.4 L539.7,399.7 L540.3,400.0 L540.9,400.3 L541.5,400.7 L542.1,401.1 L542.7,401.5 L543.3,402.0 L543.9,402.4 L544.5,402.8 L545.1,403.2 L545.7,403.6 L546.3,404.0 L546.9,404.4 L547.5,404.8 L548.1,405.2 L548.7,405.6 L549.3,405.7 L549.9,405.9 L550.5,406.0 L551.1,406.2 L551.7,406.3 L552.3,406.5 L552.9,406.6 L553.5,406.7 L554.1,406.9 L554.7,407.0 L555.3,407.2 L555.9,407.4 L556.5,407.9 L557.1,408.4 L557.7,409.0 L558.3,409.5 L558.9,410.0 L559.5,410.5 L560.1,411.0 L560.7,411.6 L561.3,412.1 L561.9,412.6 L562.5,413.2 L563.1,413.9 L563.7,414.5 L564.3,415.1 L564.9,415.7 L565.5,416.4 L566.1,417.0 L566.7,417.6 L567.3,418.3 L567.9,418.9 L568.5,419.6 L569.1,420.3 L569.7,421.0 L570.3,421.7 L570.9,422.4 L571.5,423.1 L572.1,423.8 L572.7,424.5 L573.3,425.2 L573.9,425.9 L574.5,426.7 L575.1,427.4 L575.7,428.1 L576.3,428.8 L576.9,429.5 L577.5,430.0 L578.1,430.4 L578.7,430.9 L579.3,431.3 L579.9,431.8 L580.5,432.2 L581.1,432.7 L581.7,433.1 L582.3,433.6 L582.9,434.0 L583.5,434.5 L584.1,434.9 L584.7,435.4 L585.3,435.8 L585.9,436.2 L586.5,436.7 L587.1,437.1 L587.7,437.6 L588.3,438.0 L588.9,438.5 L589.5,438.9 L590.1,439.6 L590.7,440.3 L591.3,441.0 L591.9,441.7 L592.5,442.4 L593.1,443.1 L593.7,443.8 L594.3,444.5 L594.9,445.2 L595.5,445.9 L596.1,446.6 L596.7,447.3 L597.3,448.0 L597.9,448.7 L598.5,449.4 L599.1,450.1 L599.7,450.7 L600.3,451.3 L600.9,451.9 L601.5,452.5 L602.1,453.1 L602.7,453.7 L603.3,454.3 L603.9,454.9 L604.5,455.5 L605.1,456.1 L605.7,456.7 L606.3,457.3 L606.9,457.8 L607.5,458.0 L608.1,458.2 L608.7,458.4 L609.3,458.7 L609.9,458.9 L610.5,459.1 L611.1,459.3 L611.7,459.6 L612.3,459.8 L612.9,460.0 L613.5,460.3 L614.1,460.6 L614.7,460.9 L615.3,461.2 L615.9,461.5 L616.5,461.8 L617.1,462.1 L617.7,462.4 L618.3,462.7 L618.9,463.0 L619.5,463.4 L620.1,463.7 L620.7,464.1 L621.3,464.5 L621.9,464.9 L622.5,465.2 L623.1,465.6 L623.7,466.0 L624.3,466.4 L624.9,466.7 L625.5,467.0 L626.1,466.9 L626.7,466.8 L627.3,466.7 L627.9,466.7 L628.5,466.6 L629.1,466.5 L629.7,466.4 L630.3,466.4 L630.9,466.3 L631.5,466.2 L632.1,466.4 L632.7,466.6 L633.3,466.8 L633.9,467.0 L634.5,467.2 L635.1,467.4 L635.7,467.6 L636.3,468.0 L636.9,469.0 L637.5,470.1 L638.1,471.1 L638.7,472.2 L639.3,473.2 L639.9,474.3 L640.5,475.4 L641.1,476.4 L641.7,477.5 L642.3,478.5 L642.9,479.6 L643.5,480.7 L644.1,481.8 L644.7,482.9 L645.3,484.0 L645.9,485.1 L646.5,486.2 L647.1,487.4 L647.7,488.5 L648.3,489.6 L648.9,490.5 L649.5,491.3 L650.1,492.0 L650.7,492.8 L651.3,493.5 L651.9,494.3 L652.5,495.0 L653.1,495.7 L653.7,496.5 L653.8,496.6" stroke="#dc7428" stroke-width="2.2" fill="none" stroke-linejoin="round" stroke-linecap="butt"/>
<path d="M117.9,166.3 L118.5,165.1 L119.1,164.1 L119.7,164.4 L120.3,165.5 L120.9,165.9 L121.5,165.1 L122.1,164.3 L122.7,164.7 L123.3,166.6 L123.9,168.0 L124.5,167.7 L125.1,166.4 L125.7,165.6 L126.3,166.6 L126.9,168.5 L127.5,169.6 L128.1,169.3 L128.7,168.6 L129.3,168.8 L129.9,170.0 L130.5,171.0 L131.1,170.7 L131.7,169.5 L132.3,169.4 L132.9,171.3 L133.5,173.8 L134.1,175.3 L134.7,175.0 L135.3,174.2 L135.9,174.5 L136.5,176.0 L137.1,177.6 L137.7,178.1 L138.3,177.7 L138.9,177.9 L139.5,179.5 L140.1,182.0 L140.7,183.3 L141.3,183.1 L141.9,182.8 L142.5,183.9 L143.1,186.1 L143.7,187.8 L144.3,188.0 L144.9,187.0 L145.5,186.3 L146.1,186.8 L146.7,188.2 L147.3,189.0 L147.9,188.6 L148.5,188.3 L149.1,192.0 L149.7,198.3 L150.3,204.2 L150.9,203.6 L151.5,199.2 L152.1,195.5 L152.7,193.3 L153.3,192.1 L153.9,193.6 L154.5,195.3 L155.1,196.7 L155.7,199.1 L156.3,202.4 L156.9,205.3 L157.5,205.4 L158.1,202.0 L158.7,199.5 L159.3,198.7 L159.9,202.7 L160.5,205.7 L161.1,206.9 L161.7,202.1 L162.3,197.2 L162.9,193.6 L163.5,195.8 L164.1,198.1 L164.7,199.5 L165.3,201.7 L165.9,205.2 L166.5,204.4 L167.1,202.4 L167.7,198.9 L168.3,195.3 L168.9,193.0 L169.5,193.8 L170.1,194.6 L170.7,194.2 L171.3,192.9 L171.9,191.9 L172.5,191.8 L173.1,192.2 L173.7,191.8 L174.3,190.6 L174.9,189.5 L175.5,189.3 L176.1,190.2 L176.7,191.9 L177.3,192.6 L177.9,192.4 L178.5,193.1 L179.1,196.7 L179.7,200.8 L180.3,204.5 L180.9,207.6 L181.5,210.6 L182.1,214.0 L182.7,217.7 L183.3,221.1 L183.9,223.9 L184.5,226.3 L185.1,225.8 L185.7,224.1 L186.3,222.7 L186.9,224.2 L187.5,226.9 L188.1,229.5 L188.7,232.4 L189.3,234.0 L189.9,234.7 L190.5,235.2 L191.1,235.7 L191.7,232.4 L192.3,227.2 L192.9,222.1 L193.5,216.9 L194.1,216.6 L194.7,217.3 L195.3,218.1 L195.9,215.9 L196.5,213.1 L197.1,210.4 L197.7,211.4 L198.3,213.2 L198.9,214.9 L199.5,216.7 L200.1,218.0 L200.7,219.3 L201.3,220.5 L201.9,221.8 L202.5,219.0 L203.1,216.1 L203.7,213.3 L204.3,210.4 L204.9,207.6 L205.5,209.1 L206.1,210.5 L206.7,212.0 L207.3,213.5 L207.9,215.0 L208.5,216.4 L209.1,217.9 L209.7,219.4 L210.3,220.2 L210.9,217.8 L211.5,215.5 L212.1,213.1 L212.7,211.5 L213.3,213.6 L213.9,215.7 L214.5,217.9 L215.1,220.0 L215.7,221.4 L216.3,219.3 L216.9,217.1 L217.5,214.9 L218.1,213.8 L218.7,214.5 L219.3,215.3 L219.9,216.1 L220.5,216.9 L221.1,217.7 L221.7,218.0 L222.3,217.5 L222.9,217.0 L223.5,216.5 L224.1,216.0 L224.7,215.5 L225.3,215.0 L225.9,215.9 L226.5,218.2 L227.1,220.6 L227.7,223.0 L228.3,225.3 L228.9,225.6 L229.5,223.7 L230.1,221.8 L230.7,219.9 L231.3,218.0 L231.9,217.6 L232.5,218.9 L233.1,220.1 L233.7,221.3 L234.3,222.6 L234.9,222.6 L235.5,222.0 L236.1,221.4 L236.7,220.8 L237.3,220.2 L237.9,219.6 L238.5,219.6 L239.1,219.9 L239.7,220.2 L240.3,220.5 L240.9,220.8 L241.5,221.1 L242.1,221.4 L242.7,221.7 L243.3,222.0 L243.9,222.3 L244.5,222.6 L245.1,222.9 L245.7,223.3 L246.3,223.8 L246.9,224.2 L247.5,224.6 L248.1,225.0 L248.7,225.4 L249.3,225.8 L249.9,226.3 L250.5,226.7 L251.1,227.1 L251.7,227.6 L252.3,228.2 L252.9,228.7 L253.5,229.3 L254.1,229.8 L254.7,230.3 L255.3,230.8 L255.9,231.2 L256.5,231.6 L257.1,232.1 L257.7,232.5 L258.3,232.9 L258.9,233.3 L259.5,233.7 L260.1,234.2 L260.7,234.6 L261.3,235.0 L261.9,235.4 L262.5,235.8 L263.1,236.2 L263.7,236.7 L264.3,237.1 L264.9,237.5 L265.5,237.9 L266.1,238.3 L266.7,238.8 L267.3,239.2 L267.9,239.6 L268.5,240.0 L269.1,240.4 L269.7,240.8 L270.3,241.3 L270.9,241.7 L271.5,242.1 L272.1,242.5 L272.7,242.9 L273.3,243.4 L273.9,244.0 L274.5,244.5 L275.1,245.1 L275.7,245.6 L276.3,246.1 L276.9,246.7 L277.5,247.2 L278.1,247.8 L278.7,248.3 L279.3,248.8 L279.9,249.4 L280.5,249.9 L281.1,250.5 L281.7,251.0 L282.3,251.5 L282.9,252.1 L283.5,252.6 L284.1,253.2 L284.7,253.7 L285.3,254.2 L285.9,254.8 L286.5,255.3 L287.1,255.9 L287.7,256.4 L288.3,256.9 L288.9,257.5 L289.5,258.0 L290.1,258.6 L290.7,259.1 L291.3,259.8 L291.9,260.4 L292.5,261.1 L293.1,261.8 L293.7,262.5 L294.3,263.1 L294.9,263.8 L295.5,264.5 L296.1,265.1 L296.7,265.8 L297.3,266.5 L297.9,267.1 L298.5,267.8 L299.1,268.5 L299.7,269.1 L300.3,269.7 L300.9,270.3 L301.5,270.9 L302.1,271.5 L302.7,272.1 L303.3,272.7 L303.9,273.3 L304.5,273.9 L305.1,274.5 L305.7,275.1 L306.3,275.7 L306.9,276.3 L307.5,276.9 L308.1,277.5 L308.7,278.0 L309.3,278.5 L309.9,279.0 L310.5,279.5 L311.1,280.0 L311.7,280.5 L312.3,281.0 L312.9,281.4 L313.5,281.9 L314.1,282.4 L314.7,282.8 L315.3,283.3 L315.9,283.7 L316.5,284.2 L317.1,284.6 L317.7,285.1 L318.3,285.5 L318.9,286.0 L319.5,286.4 L320.1,286.9 L320.7,287.3 L321.3,287.8 L321.9,288.2 L322.5,288.7 L323.1,289.1 L323.7,289.6 L324.3,290.1 L324.9,290.5 L325.5,291.0 L326.1,291.4 L326.7,291.9 L327.3,292.3 L327.9,292.8 L328.5,293.1 L329.1,293.5 L329.7,293.8 L330.3,294.2 L330.9,294.5 L331.5,294.8 L332.1,295.2 L332.7,295.5 L333.3,295.8 L333.9,296.0 L334.5,296.1 L335.1,296.3 L335.7,296.4 L336.3,296.6 L336.9,296.8 L337.5,296.9 L338.1,297.1 L338.7,297.3 L339.3,297.6 L339.9,298.0 L340.5,298.4 L341.1,298.7 L341.7,299.1 L342.3,299.5 L342.9,299.8 L343.5,300.2 L344.1,300.6 L344.7,300.9 L345.3,301.3 L345.9,301.7 L346.5,302.0 L347.1,302.4 L347.7,302.7 L348.3,302.9 L348.9,303.2 L349.5,303.4 L350.1,303.6 L350.7,303.8 L351.3,304.1 L351.9,304.3 L352.5,304.7 L353.1,305.1 L353.7,305.5 L354.3,305.8 L354.9,306.2 L355.5,306.6 L356.1,307.0 L356.7,307.4 L357.3,307.8 L357.9,308.2 L358.5,308.5 L359.1,308.9 L359.7,309.3 L360.3,309.7 L360.9,310.0 L361.5,310.4 L362.1,310.7 L362.7,311.1 L363.3,311.4 L363.9,311.8 L364.5,312.1 L365.1,312.5 L365.7,312.8 L366.3,313.2 L366.9,313.5 L367.5,313.8 L368.1,314.2 L368.7,314.5 L369.3,314.9 L369.9,315.2 L370.5,315.8 L371.1,316.4 L371.7,317.0 L372.3,317.6 L372.9,318.2 L373.5,318.8 L374.1,319.4 L374.7,320.0 L375.3,320.6 L375.9,321.2 L376.5,321.8 L377.1,322.4 L377.7,323.0 L378.3,323.6 L378.9,324.2 L379.5,324.5 L380.1,324.8 L380.7,325.1 L381.3,325.4 L381.9,325.7 L382.5,326.0 L383.1,326.3 L383.7,326.6 L384.3,326.9 L384.9,327.2 L385.5,327.5 L386.1,327.8 L386.7,328.1 L387.3,328.4 L387.9,328.8 L388.5,329.2 L389.1,329.6 L389.7,330.0 L390.3,330.4 L390.9,330.8 L391.5,331.2 L392.1,331.6 L392.7,332.1 L393.3,332.5 L393.9,332.9 L394.5,333.3 L395.1,333.7 L395.7,334.1 L396.3,334.5 L396.9,334.9 L397.5,335.3 L398.1,335.8 L398.7,336.2 L399.3,336.6 L399.9,337.0 L400.5,337.4 L401.1,337.7 L401.7,338.0 L402.3,338.3 L402.9,338.6 L403.5,338.9 L404.1,339.3 L404.7,339.6 L405.3,339.9 L405.9,340.2 L406.5,340.5 L407.1,340.8 L407.7,341.2 L408.3,341.5 L408.9,341.8 L409.5,342.1 L410.1,342.4 L410.7,342.7 L411.3,343.1 L411.9,343.4 L412.5,343.7 L413.1,344.0 L413.7,344.2 L414.3,344.4 L414.9,344.7 L415.5,344.9 L416.1,345.1 L416.7,345.3 L417.3,345.6 L417.9,345.8 L418.5,346.0 L419.1,346.3 L419.7,346.5 L420.3,346.7 L420.9,347.0 L421.5,347.2 L422.1,347.4 L422.7,347.7 L423.3,347.9 L423.9,348.3 L424.5,348.7 L425.1,349.1 L425.7,349.6 L426.3,350.0 L426.9,350.4 L427.5,350.8 L428.1,351.2 L428.7,351.6 L429.3,352.0 L429.9,352.5 L430.5,352.9 L431.1,353.3 L431.7,353.7 L432.3,354.1 L432.9,354.5 L433.5,355.0 L434.1,355.3 L434.7,355.5 L435.3,355.7 L435.9,355.8 L436.5,356.0 L437.1,356.2 L437.7,356.3 L438.3,356.5 L438.9,356.7 L439.5,356.9 L440.1,357.4 L440.7,357.8 L441.3,358.3 L441.9,358.7 L442.5,359.2 L443.1,359.6 L443.7,360.1 L444.3,360.5 L444.9,361.0 L445.5,361.4 L446.1,361.9 L446.7,362.3 L447.3,362.8 L447.9,363.2 L448.5,363.7 L449.1,364.1 L449.7,364.5 L450.3,365.0 L450.9,365.4 L451.5,365.9 L452.1,366.3 L452.7,366.8 L453.3,367.2 L453.9,367.7 L454.5,368.1 L455.1,368.6 L455.7,369.1 L456.3,369.8 L456.9,370.5 L457.5,371.1 L458.1,371.8 L458.7,372.5 L459.3,373.0 L459.9,373.5 L460.5,374.0 L461.1,374.5 L461.7,374.9 L462.3,375.4 L462.9,375.9 L463.5,376.4 L464.1,376.8 L464.7,377.3 L465.3,377.8 L465.9,378.3 L466.5,378.8 L467.1,379.2 L467.7,379.7 L468.3,380.3 L468.9,380.9 L469.5,381.5 L470.1,382.1 L470.7,382.7 L471.3,383.3 L471.9,383.9 L472.5,384.5 L473.1,385.1 L473.7,385.7 L474.3,386.3 L474.9,386.9 L475.5,387.5 L476.1,388.1 L476.7,388.7 L477.3,389.3 L477.9,389.9 L478.5,390.5 L479.1,391.1 L479.7,391.7 L480.3,392.3 L480.9,392.9 L481.5,393.5 L482.1,394.1 L482.7,394.7 L483.3,395.3 L483.9,395.9 L484.5,396.5 L485.1,397.1 L485.7,397.7 L486.3,398.3 L486.9,398.9 L487.5,399.5 L488.1,400.1 L488.7,400.7 L489.3,401.3 L489.9,401.8 L490.5,402.2 L491.1,402.7 L491.7,403.2 L492.3,403.7 L492.9,404.2 L493.5,404.7 L494.1,405.2 L494.7,405.7 L495.3,406.2 L495.9,406.7 L496.5,407.1 L497.1,407.6 L497.7,408.1 L498.3,408.6 L498.9,409.1 L499.5,409.6 L500.1,410.1 L500.7,410.6 L501.3,411.1 L501.9,411.6 L502.5,412.0 L503.1,412.5 L503.7,413.1 L504.3,413.6 L504.9,414.1 L505.5,414.7 L506.1,415.2 L506.7,415.8 L507.3,416.3 L507.9,416.8 L508.5,417.4 L509.1,417.9 L509.7,418.5 L510.3,419.0 L510.9,419.5 L511.5,420.1 L512.1,420.6 L512.7,421.0 L513.3,421.3 L513.9,421.7 L514.5,422.0 L515.1,422.4 L515.7,422.7 L516.3,423.1 L516.9,423.4 L517.5,423.8 L518.1,424.1 L518.7,424.5 L519.3,424.8 L519.9,425.2 L520.5,425.5 L521.1,425.9 L521.7,426.2 L522.3,426.6 L522.9,426.9 L523.5,427.5 L524.1,428.1 L524.7,428.7 L525.3,429.3 L525.9,429.9 L526.5,430.5 L527.1,431.1 L527.7,431.7 L528.3,432.3 L528.9,433.0 L529.5,433.7 L530.1,434.3 L530.7,435.0 L531.3,435.7 L531.9,436.4 L532.5,437.0 L533.1,437.7 L533.7,438.4 L534.3,439.1 L534.9,439.7 L535.5,440.3 L536.1,440.8 L536.7,441.2 L537.3,441.6 L537.9,442.1 L538.5,442.5 L539.1,442.9 L539.7,443.3 L540.3,443.8 L540.9,444.2 L541.5,444.6 L542.1,445.0 L542.7,445.5 L543.3,445.9 L543.9,446.3 L544.5,446.8 L545.1,447.2 L545.7,447.6 L546.3,448.0 L546.9,448.5 L547.5,448.9 L548.1,449.3 L548.7,449.8 L549.3,450.2 L549.9,450.6 L550.5,451.1 L551.1,451.5 L551.7,452.0 L552.3,452.4 L552.9,452.9 L553.5,453.3 L554.1,453.7 L554.7,454.2 L555.3,454.6 L555.9,455.1 L556.5,455.5 L557.1,456.0 L557.7,456.4 L558.3,456.8 L558.9,457.3 L559.5,457.7 L560.1,458.2 L560.7,458.5 L561.3,458.8 L561.9,459.1 L562.5,459.4 L563.1,459.7 L563.7,460.0 L564.3,460.4 L564.9,460.7 L565.5,461.0 L566.1,461.3 L566.7,461.6 L567.3,461.9 L567.9,462.3 L568.5,462.6 L569.1,462.9 L569.7,463.4 L570.3,464.0 L570.9,464.6 L571.5,465.2 L572.1,465.8 L572.7,466.4 L573.3,467.0 L573.9,467.6 L574.5,468.2 L575.1,468.9 L575.7,469.5 L576.3,470.1 L576.9,470.7 L577.5,471.3 L578.1,471.9 L578.7,472.5 L579.3,473.1 L579.9,473.7 L580.5,474.3 L581.1,475.0 L581.7,475.7 L582.3,476.4 L582.9,477.1 L583.5,477.8 L584.1,478.4 L584.7,479.1 L585.3,479.8 L585.9,480.5 L586.5,481.2 L587.1,481.8 L587.7,482.5 L588.3,483.2 L588.9,483.9 L589.5,484.6 L590.1,485.3 L590.7,485.9 L591.3,486.6 L591.9,487.3 L592.5,488.0 L593.1,488.7 L593.7,489.4 L594.3,490.2 L594.9,490.9 L595.5,491.6 L596.1,492.3 L596.7,493.0 L597.3,493.7 L597.9,494.4 L598.5,495.1 L599.1,495.8 L599.7,496.5 L600.3,497.2 L600.9,497.9 L601.5,498.6 L602.1,499.3 L602.7,500.1 L603.3,500.8 L603.9,501.5 L604.5,502.2 L605.1,503.0 L605.7,503.7 L606.3,504.4 L606.9,505.1 L607.5,505.9 L608.1,506.6 L608.7,507.0 L609.3,507.4 L609.9,507.8 L610.5,508.1 L611.1,508.5 L611.7,508.9 L612.3,509.3 L612.9,509.7 L613.5,510.0 L614.1,510.4 L614.7,510.8 L615.3,511.3 L615.9,511.7 L616.5,512.2 L617.1,512.6 L617.7,513.1 L618.3,513.5 L618.9,514.0 L619.5,514.4 L620.1,514.8 L620.7,515.3 L621.3,515.7 L621.9,516.2 L622.5,516.6 L623.1,517.1 L623.7,517.5 L624.3,517.8 L624.9,518.0 L625.5,518.2 L626.1,518.4 L626.7,518.6 L627.3,518.9 L627.9,519.1 L628.5,519.3 L629.1,519.5 L629.7,519.7 L630.3,519.9 L630.9,520.1 L631.5,520.4 L632.1,520.6 L632.7,520.9 L633.3,521.2 L633.9,521.5 L634.5,521.8 L635.1,522.1 L635.7,522.4 L636.3,522.7 L636.9,523.0 L637.5,523.6 L638.1,524.4 L638.7,525.2 L639.3,526.0 L639.9,526.8 L640.5,527.5 L641.1,528.3 L641.7,529.1 L642.3,529.9 L642.9,531.0 L643.5,532.2 L644.1,533.3 L644.7,534.5 L645.3,535.7 L645.9,536.9 L646.5,538.1 L647.1,539.3 L647.7,540.4 L648.3,541.6 L648.9,542.7 L649.5,543.6 L650.1,544.5 L650.7,545.5 L651.3,546.4 L651.9,547.3 L652.5,548.2 L653.1,549.1 L653.7,550.0 L653.8,550.2" stroke="#c8282c" stroke-width="2.2" fill="none" stroke-linejoin="round" stroke-linecap="butt"/>
<rect x="107.5" y="32.0" width="556.90" height="557.00" fill="none" stroke="#000" stroke-width="2.2"/>
<g font-family='"Liberation Sans", sans-serif' fill="#000">
<text x="163.00" y="617.60" font-size="24.4" text-anchor="middle" >6</text>
<text x="252.30" y="617.60" font-size="24.4" text-anchor="middle" >8</text>
<text x="341.60" y="617.60" font-size="24.4" text-anchor="middle" >10</text>
<text x="430.90" y="617.60" font-size="24.4" text-anchor="middle" >12</text>
<text x="520.20" y="617.60" font-size="24.4" text-anchor="middle" >14</text>
<text x="609.50" y="617.60" font-size="24.4" text-anchor="middle" >16</text>
<text x="96.50" y="114.80" font-size="24.4" text-anchor="end" >0.36</text>
<text x="96.50" y="263.70" font-size="24.4" text-anchor="end" >0.32</text>
<text x="96.50" y="412.60" font-size="24.4" text-anchor="end" >0.28</text>
<text x="96.50" y="561.50" font-size="24.4" text-anchor="end" >0.24</text>
<text x="385.50" y="655.20" font-size="24.4" text-anchor="middle" >Wavelength (&#956;m)</text>
<text transform="translate(24.0,310.5) rotate(-90)" font-size="24.4" text-anchor="middle">Reflectivity (a.u)</text>
</g>
<line x1="122" y1="413.7" x2="151.4" y2="413.7" stroke="#641c68" stroke-width="2.6"/>
<line x1="122" y1="474.6" x2="151.4" y2="474.6" stroke="#2d4288" stroke-width="2.6"/>
<line x1="122" y1="540.9" x2="151.4" y2="540.9" stroke="#62b040" stroke-width="2.6"/>
<line x1="298" y1="412.4" x2="327.7" y2="412.4" stroke="#e2d830" stroke-width="2.6"/>
<line x1="298" y1="473.6" x2="327.7" y2="473.6" stroke="#dc7428" stroke-width="2.6"/>
<line x1="298" y1="530.5" x2="327.7" y2="530.5" stroke="#c8282c" stroke-width="2.6"/>
<g font-family='"Liberation Sans", sans-serif' fill="#000">
<text x="160.90" y="422.50" font-size="24.4" text-anchor="start" >295 K</text>
<text x="160.90" y="483.40" font-size="24.4" text-anchor="start" >350 K</text>
<text x="160.90" y="549.70" font-size="24.4" text-anchor="start" >400 K</text>
<text x="337.60" y="421.20" font-size="24.4" text-anchor="start" >450 K</text>
<text x="337.60" y="482.40" font-size="24.4" text-anchor="start" >500 K</text>
<text x="337.60" y="539.30" font-size="24.4" text-anchor="start" >525 K</text>
</g>
<text x="1.3" y="29.6" style="stroke:none" font-family='"Liberation Sans", sans-serif' font-weight="bold" font-size="35.5" textLength="17.2" lengthAdjust="spacingAndGlyphs">a</text>
<path d="M112.91,1284.10V1282.80M112.91,730.90V732.20M132.21,1284.10V1282.80M132.21,730.90V732.20M151.50,1284.10V1282.80M151.50,730.90V732.20M170.80,1284.10V1280.80M170.80,730.90V734.20M190.10,1284.10V1282.80M190.10,730.90V732.20M209.39,1284.10V1282.80M209.39,730.90V732.20M228.69,1284.10V1282.80M228.69,730.90V732.20M247.98,1284.10V1282.80M247.98,730.90V732.20M267.28,1284.10V1280.80M267.28,730.90V734.20M286.58,1284.10V1282.80M286.58,730.90V732.20M305.87,1284.10V1282.80M305.87,730.90V732.20M325.17,1284.10V1282.80M325.17,730.90V732.20M344.46,1284.10V1282.80M344.46,730.90V732.20M363.76,1284.10V1280.80M363.76,730.90V734.20M383.06,1284.10V1282.80M383.06,730.90V732.20M402.35,1284.10V1282.80M402.35,730.90V732.20M421.65,1284.10V1282.80M421.65,730.90V732.20M440.94,1284.10V1282.80M440.94,730.90V732.20M460.24,1284.10V1280.80M460.24,730.90V734.20M479.54,1284.10V1282.80M479.54,730.90V732.20M498.83,1284.10V1282.80M498.83,730.90V732.20M518.13,1284.10V1282.80M518.13,730.90V732.20M537.42,1284.10V1282.80M537.42,730.90V732.20M556.72,1284.10V1280.80M556.72,730.90V734.20M576.02,1284.10V1282.80M576.02,730.90V732.20M595.31,1284.10V1282.80M595.31,730.90V732.20M614.61,1284.10V1282.80M614.61,730.90V732.20M633.90,1284.10V1282.80M633.90,730.90V732.20M653.20,1284.10V1280.80M653.20,730.90V734.20M108.60,1282.80H109.90M663.20,1282.80H661.90M108.60,1257.50H111.90M663.20,1257.50H659.90M108.60,1232.20H109.90M663.20,1232.20H661.90M108.60,1206.90H109.90M663.20,1206.90H661.90M108.60,1181.60H109.90M663.20,1181.60H661.90M108.60,1156.30H109.90M663.20,1156.30H661.90M108.60,1131.00H111.90M663.20,1131.00H659.90M108.60,1105.70H109.90M663.20,1105.70H661.90M108.60,1080.40H109.90M663.20,1080.40H661.90M108.60,1055.10H109.90M663.20,1055.10H661.90M108.60,1029.80H109.90M663.20,1029.80H661.90M108.60,1004.50H111.90M663.20,1004.50H659.90M108.60,979.20H109.90M663.20,979.20H661.90M108.60,953.90H109.90M663.20,953.90H661.90M108.60,928.60H109.90M663.20,928.60H661.90M108.60,903.30H109.90M663.20,903.30H661.90M108.60,878.00H111.90M663.20,878.00H659.90M108.60,852.70H109.90M663.20,852.70H661.90M108.60,827.40H109.90M663.20,827.40H661.90M108.60,802.10H109.90M663.20,802.10H661.90M108.60,776.80H109.90M663.20,776.80H661.90M108.60,751.50H111.90M663.20,751.50H659.90" stroke="#000" stroke-width="1.8" fill="none"/>
<path d="M117.4,1245.2 L120.8,1244.6 L124.1,1244.1 L127.5,1243.5 L130.9,1242.9 L134.3,1242.2 L137.6,1241.6 L141.0,1240.9 L144.4,1240.2 L147.8,1239.5 L151.1,1238.8 L154.5,1238.1 L157.9,1237.3 L161.2,1236.5 L164.6,1235.7 L168.0,1234.9 L171.4,1234.0 L174.7,1233.1 L178.1,1232.2 L181.5,1231.3 L184.9,1230.4 L188.2,1229.4 L191.6,1228.4 L195.0,1227.4 L198.4,1226.3 L201.7,1225.2 L205.1,1224.1 L208.5,1223.0 L211.8,1221.9 L215.2,1220.7 L218.6,1219.5 L222.0,1218.3 L225.3,1217.0 L228.7,1215.7 L232.1,1214.4 L235.5,1213.1 L238.8,1211.7 L242.2,1210.3 L245.6,1208.9 L248.9,1207.4 L252.3,1205.9 L255.7,1204.4 L259.1,1202.8 L262.4,1201.3 L265.8,1199.6 L269.2,1198.0 L272.6,1196.3 L275.9,1194.6 L279.3,1192.9 L282.7,1191.1 L286.0,1189.3 L289.4,1187.5 L292.8,1185.6 L296.2,1183.7 L299.5,1181.8 L302.9,1179.8 L306.3,1177.8 L309.7,1175.8 L313.0,1173.7 L316.4,1171.6 L319.8,1169.5 L323.2,1167.3 L326.5,1165.1 L329.9,1162.8 L333.3,1160.6 L336.6,1158.2 L340.0,1155.9 L343.4,1153.5 L346.8,1151.1 L350.1,1148.6 L353.5,1146.1 L356.9,1143.6 L360.3,1141.0 L363.6,1138.4 L367.0,1135.7 L370.4,1133.1 L373.7,1130.3 L377.1,1127.6 L380.5,1124.8 L383.9,1121.9 L387.2,1119.0 L390.6,1116.1 L394.0,1113.2 L397.4,1110.2 L400.7,1107.1 L404.1,1104.1 L407.5,1100.9 L410.8,1097.8 L414.2,1094.6 L417.6,1091.4 L421.0,1088.1 L424.3,1084.8 L427.7,1081.4 L431.1,1078.0 L434.5,1074.6 L437.8,1071.1 L441.2,1067.6 L444.6,1064.0 L447.9,1060.4 L451.3,1056.7 L454.7,1053.0 L458.1,1049.3 L461.4,1045.5 L464.8,1041.7 L468.2,1037.9 L471.6,1034.0 L474.9,1030.0 L478.3,1026.0 L481.7,1022.0 L485.1,1017.9 L488.4,1013.8 L491.8,1009.7 L495.2,1005.5 L498.5,1001.2 L501.9,996.9 L505.3,992.6 L508.7,988.2 L512.0,983.8 L515.4,979.3 L518.8,974.8 L522.2,970.3 L525.5,965.7 L528.9,961.1 L532.3,956.4 L535.6,951.7 L539.0,946.9 L542.4,942.1 L545.8,937.2 L549.1,932.3 L552.5,927.4 L555.9,922.4 L559.3,917.3 L562.6,912.2 L566.0,907.1 L569.4,901.9 L572.7,896.7 L576.1,891.5 L579.5,886.2 L582.9,880.8 L586.2,875.4 L589.6,870.0 L593.0,864.5 L596.4,858.9 L599.7,853.4 L603.1,847.7 L606.5,842.1 L609.9,836.3 L613.2,830.6 L616.6,824.8 L620.0,818.9 L623.3,813.0 L626.7,807.1 L630.1,801.1 L633.5,795.1 L636.8,789.0 L640.2,782.8 L643.6,776.7 L647.0,770.5 L650.3,764.2 L653.7,757.9" stroke="#34469c" stroke-width="2.3" fill="none" stroke-linejoin="round"/>
<rect x="153.70" y="1203.90" width="14.2" height="14.4" fill="#e02a2c" stroke="#8a1820" stroke-width="1"/>
<rect x="304.40" y="1085.30" width="14.2" height="14.4" fill="#e02a2c" stroke="#8a1820" stroke-width="1"/>
<rect x="352.50" y="1029.80" width="14.2" height="14.4" fill="#e02a2c" stroke="#8a1820" stroke-width="1"/>
<rect x="401.30" y="985.20" width="14.2" height="14.4" fill="#e02a2c" stroke="#8a1820" stroke-width="1"/>
<rect x="449.10" y="958.00" width="14.2" height="14.4" fill="#e02a2c" stroke="#8a1820" stroke-width="1"/>
<rect x="497.00" y="915.00" width="14.2" height="14.4" fill="#e02a2c" stroke="#8a1820" stroke-width="1"/>
<rect x="545.70" y="873.40" width="14.2" height="14.4" fill="#e02a2c" stroke="#8a1820" stroke-width="1"/>
<rect x="593.90" y="803.40" width="14.2" height="14.4" fill="#e02a2c" stroke="#8a1820" stroke-width="1"/>
<rect x="1" y="1" width="1" height="1" fill="none"/>
<rect x="107.5" y="729.8" width="556.80" height="555.40" fill="none" stroke="#000" stroke-width="2.2"/>
<line x1="117" y1="761.8" x2="160.7" y2="761.8" stroke="#32439a" stroke-width="2.8"/>
<rect x="128.6" y="801.5" width="21" height="21" fill="#e02a2c" stroke="#8a1820" stroke-width="1.2"/>
<g font-family='"Liberation Sans", sans-serif' fill="#000">
<text x="169.60" y="769.60" font-size="24.4" text-anchor="start" >Theory</text>
<text x="169.40" y="820.00" font-size="24.4" text-anchor="start" >Experiment</text>
<text x="171.50" y="1314.60" font-size="24.4" text-anchor="middle" >300</text>
<text x="267.98" y="1314.60" font-size="24.4" text-anchor="middle" >350</text>
<text x="364.46" y="1314.60" font-size="24.4" text-anchor="middle" >400</text>
<text x="460.94" y="1314.60" font-size="24.4" text-anchor="middle" >450</text>
<text x="557.42" y="1314.60" font-size="24.4" text-anchor="middle" >500</text>
<text x="653.90" y="1314.60" font-size="24.4" text-anchor="middle" >550</text>
<text x="96.50" y="1266.30" font-size="24.4" text-anchor="end" >0</text>
<text x="96.50" y="1139.80" font-size="24.4" text-anchor="end" >1</text>
<text x="96.50" y="1013.30" font-size="24.4" text-anchor="end" >2</text>
<text x="96.50" y="886.80" font-size="24.4" text-anchor="end" >3</text>
<text x="96.50" y="760.30" font-size="24.4" text-anchor="end" >4</text>
<text x="385.40" y="1351.30" font-size="24.4" text-anchor="middle" textLength="178.8">Temperature (K)</text>
<text transform="translate(62.2,1141.8) rotate(-90)" font-size="24.4" text-anchor="start">Free carriers x 10<tspan font-size="16.6" dy="-10.5">17</tspan><tspan dy="10.5"> cm</tspan><tspan font-size="16.6" dy="-10.5">&#8722;3</tspan></text>
</g>
<text x="0.2" y="727.6" style="stroke:none" font-family='"Liberation Sans", sans-serif' font-weight="bold" font-size="35.5">b</text>
<rect x="328.59" y="615.18" width="5.36" height="4.12" fill="#fff"/><rect x="336.55" y="615.18" width="4.87" height="4.12" fill="#fff"/><rect x="417.89" y="615.18" width="5.36" height="4.12" fill="#fff"/><rect x="425.85" y="615.18" width="4.87" height="4.12" fill="#fff"/><rect x="507.19" y="615.18" width="5.36" height="4.12" fill="#fff"/><rect x="515.15" y="615.18" width="4.87" height="4.12" fill="#fff"/><rect x="596.49" y="615.18" width="5.36" height="4.12" fill="#fff"/><rect x="604.45" y="615.18" width="4.87" height="4.12" fill="#fff"/><rect x="83.48" y="1137.38" width="5.36" height="4.12" fill="#fff"/><rect x="91.44" y="1137.38" width="4.87" height="4.12" fill="#fff"/><g transform="translate(62.2,1141.8) rotate(-90)"><rect x="164.53" y="-2.42" width="5.36" height="4.12" fill="#fff"/><rect x="172.49" y="-2.42" width="4.87" height="4.12" fill="#fff"/></g><g transform="translate(62.2,1141.8) rotate(-90)"><rect x="191.09" y="-12.34" width="3.99" height="3.54" fill="#fff"/><rect x="196.99" y="-12.34" width="3.56" height="3.54" fill="#fff"/></g>
</svg>
</body></html>
